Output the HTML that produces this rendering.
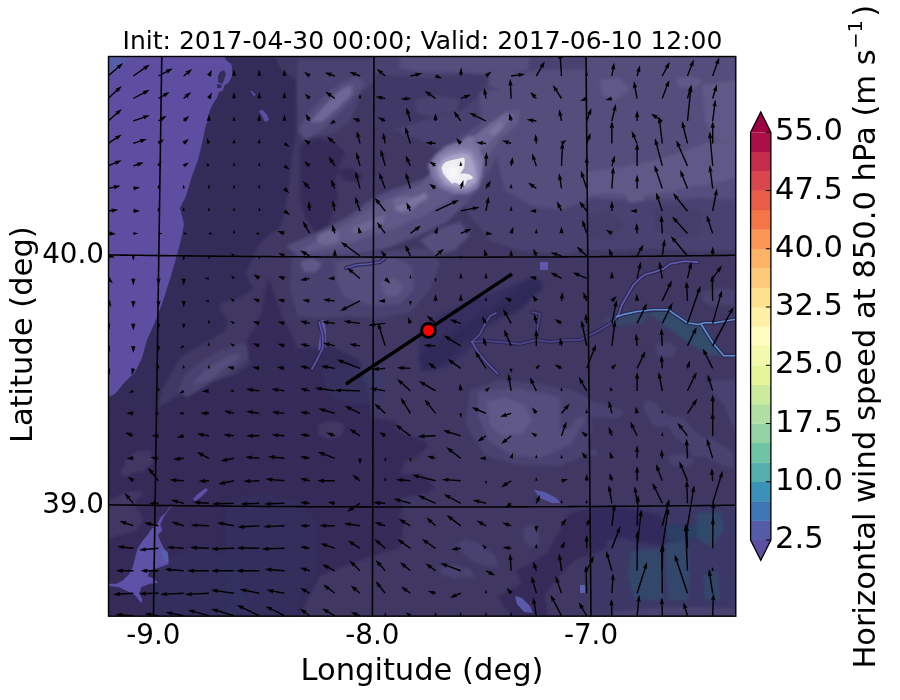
<!DOCTYPE html>
<html><head><meta charset="utf-8"><style>
html,body{margin:0;padding:0;background:#fff;width:900px;height:700px;overflow:hidden}
svg{display:block}
text{font-family:"DejaVu Sans","Liberation Sans",sans-serif;fill:#000}
.t25{font-size:25px} .t27{font-size:27.78px} .t30{font-size:30.56px}
</style></head><body>
<svg width="900" height="700" viewBox="0 0 900 700">
<filter id="soft" x="-10%" y="-10%" width="120%" height="120%"><feGaussianBlur stdDeviation="1.5"/></filter>
<clipPath id="axclip"><rect x="108.5" y="56.5" width="627.3" height="559.7"/></clipPath>
<g clip-path="url(#axclip)">
<rect x="108.5" y="56.5" width="627.3" height="559.7" fill="#342c58"/>
<path d="M272.0,50.0 L280.0,68.0 L296.0,80.0 L298.0,96.0 L296.0,116.0 L296.0,136.0 L292.0,156.0 L290.0,176.0 L288.0,196.0 L284.0,216.0 L280.0,228.0 L268.0,236.0 L258.0,246.0 L251.4,261.4 L245.7,272.9 L249.1,280.9 L253.7,287.7 L245.7,294.6 L234.3,300.3 L221.7,302.6 L219.4,309.4 L227.4,318.6 L226.0,330.0 L214.0,338.0 L195.0,348.0 L180.0,358.0 L162.0,390.0 L158.0,408.0 L169.0,401.0 L197.0,383.0 L233.0,376.0 L258.0,358.0 L290.0,350.0 L330.0,345.0 L360.0,360.0 L364.0,384.0 L348.0,428.0 L372.0,436.0 L380.0,456.0 L388.0,492.0 L404.0,504.0 L395.0,530.0 L360.0,560.0 L320.0,575.0 L300.0,616.0 L740.0,616.0 L740.0,50.0 Z" fill="#3f3764" filter="url(#soft)"/>
<path d="M370.0,50.0 L740.0,50.0 L740.0,250.0 L700.0,252.0 L660.0,248.0 L620.0,250.0 L590.0,250.0 L560.0,255.0 L520.0,250.0 L490.0,240.0 L470.0,215.0 L440.0,150.0 L420.0,140.0 L395.0,130.0 L378.0,100.0 L376.0,80.0 Z" fill="#4a4270" filter="url(#soft)"/>
<path d="M298.0,60.0 L376.0,60.0 L376.0,80.0 L362.0,92.0 L350.0,120.0 L335.0,132.0 L318.0,136.0 L300.0,135.0 L297.0,100.0 Z" fill="#4a4270" filter="url(#soft)"/>
<path d="M300.0,145.0 L318.0,138.0 L335.0,142.0 L345.0,152.0 L340.0,165.0 L335.0,180.0 L338.0,195.0 L334.0,210.0 L328.0,226.0 L315.0,232.0 L305.0,218.0 L300.0,200.0 Z" fill="#342c59" filter="url(#soft)"/>
<path d="M335.0,170.0 L350.0,168.0 L362.0,175.0 L360.0,182.0 L345.0,181.0 Z" fill="#342c59" filter="url(#soft)"/>
<path d="M374.0,74.0 L400.0,76.0 L430.0,78.0 L470.0,74.0 L490.0,76.0 L480.0,96.0 L462.0,110.0 L440.0,116.0 L413.0,124.0 L392.0,130.0 L376.0,126.0 Z" fill="#3f3766" filter="url(#soft)"/>
<path d="M400.0,56.0 L530.0,56.0 L528.0,70.0 L490.0,74.0 L450.0,72.0 L420.0,72.0 L400.0,68.0 Z" fill="#554d7b" filter="url(#soft)"/>
<path d="M488.0,72.0 L510.0,70.0 L533.0,74.0 L530.0,90.0 L505.0,92.0 L490.0,86.0 Z" fill="#554d7b" filter="url(#soft)"/>
<path d="M415.0,100.0 L440.0,96.0 L460.0,100.0 L455.0,112.0 L430.0,116.0 L416.0,112.0 Z" fill="#4a4270" filter="url(#soft)"/>
<path d="M586.0,56.0 L736.0,56.0 L736.0,200.0 L700.0,198.0 L660.0,200.0 L620.0,200.0 L586.0,198.0 Z" fill="#554d7b" filter="url(#soft)"/>
<path d="M500.0,80.0 L540.0,70.0 L588.0,70.0 L588.0,200.0 L560.0,210.0 L530.0,205.0 L505.0,190.0 L495.0,150.0 Z" fill="#554d7b" filter="url(#soft)"/>
<path d="M586.0,172.0 L624.0,167.0 L653.0,161.0 L682.0,152.0 L705.0,143.0 L736.0,140.0 L736.0,178.0 L711.0,184.0 L691.0,187.0 L667.0,193.0 L638.0,196.0 L609.0,193.0 L586.0,196.0 Z" fill="#615886" filter="url(#soft)"/>
<path d="M702.0,85.0 L736.0,80.0 L736.0,143.0 L715.0,140.0 L705.0,120.0 Z" fill="#615886" filter="url(#soft)"/>
<path d="M676.0,79.0 L690.0,76.0 L702.0,80.0 L696.0,88.0 L680.0,88.0 Z" fill="#615886" filter="url(#soft)"/>
<path d="M600.0,80.0 L620.0,78.0 L630.0,90.0 L615.0,100.0 L602.0,95.0 Z" fill="#615886" filter="url(#soft)"/>
<path d="M653.0,208.0 L680.0,205.0 L702.0,212.0 L700.0,235.0 L680.0,238.0 L655.0,230.0 Z" fill="#443c6a" filter="url(#soft)"/>
<path d="M588.0,215.0 L610.0,212.0 L625.0,225.0 L610.0,240.0 L590.0,238.0 Z" fill="#443c6a" filter="url(#soft)"/>
<path d="M624.0,193.0 L640.0,192.0 L645.0,200.0 L630.0,203.0 Z" fill="#615886" filter="url(#soft)"/>
<path d="M479.0,92.0 L540.0,85.0 L582.0,90.0 L585.0,160.0 L560.0,175.0 L530.0,170.0 L505.0,160.0 L485.0,150.0 Z" fill="#554d7b" filter="url(#soft)"/>
<path d="M286.0,246.0 L300.0,240.0 L325.0,229.0 L352.0,214.0 L374.0,197.0 L397.0,188.0 L423.0,179.0 L438.0,168.0 L460.0,138.0 L478.0,125.0 L495.0,112.0 L512.0,102.0 L530.0,104.0 L532.0,118.0 L515.0,135.0 L500.0,150.0 L490.0,170.0 L479.0,188.0 L465.0,205.0 L447.0,222.0 L422.0,234.0 L387.0,248.0 L351.0,256.0 L320.0,258.0 L300.0,258.0 Z" fill="#554d7b" filter="url(#soft)"/>
<path d="M300.0,250.0 L325.0,236.0 L352.0,220.0 L376.0,204.0 L398.0,194.0 L420.0,185.0 L440.0,165.0 L462.0,146.0 L485.0,128.0 L505.0,112.0 L520.0,110.0 L518.0,124.0 L500.0,140.0 L485.0,160.0 L470.0,180.0 L450.0,200.0 L425.0,215.0 L395.0,228.0 L365.0,238.0 L335.0,247.0 L310.0,252.0 Z" fill="#615886" filter="url(#soft)"/>
<path d="M393.0,199.0 L405.0,196.0 L418.0,198.0 L416.0,208.0 L404.0,214.0 L394.0,210.0 Z" fill="#6e6694" filter="url(#soft)"/>
<path d="M317.0,236.0 L328.0,230.0 L340.0,232.0 L338.0,242.0 L326.0,245.0 L318.0,243.0 Z" fill="#6e6694" filter="url(#soft)"/>
<path d="M352.0,228.0 L370.0,220.0 L385.0,214.0 L384.0,222.0 L368.0,230.0 L354.0,234.0 Z" fill="#6e6694" filter="url(#soft)"/>
<path d="M470.0,140.0 L490.0,124.0 L508.0,112.0 L514.0,116.0 L500.0,132.0 L484.0,148.0 L474.0,150.0 Z" fill="#6e6694" filter="url(#soft)"/>
<path d="M395.0,208.0 L410.0,200.0 L425.0,192.0 L428.0,198.0 L414.0,206.0 L400.0,212.0 Z" fill="#7c73a1" filter="url(#soft)"/>
<path d="M488.0,132.0 L500.0,122.0 L504.0,126.0 L494.0,136.0 Z" fill="#7c73a1" filter="url(#soft)"/>
<path d="M298.0,130.0 L310.0,112.0 L325.0,96.0 L342.0,82.0 L358.0,76.0 L365.0,84.0 L352.0,100.0 L338.0,115.0 L322.0,130.0 L305.0,140.0 Z" fill="#554d7b" filter="url(#soft)"/>
<path d="M310.0,122.0 L324.0,106.0 L340.0,90.0 L352.0,84.0 L352.0,94.0 L338.0,108.0 L322.0,122.0 Z" fill="#6e6694" filter="url(#soft)"/>
<path d="M292.0,256.0 L330.0,254.0 L380.0,252.0 L425.0,248.0 L440.0,262.0 L430.0,290.0 L410.0,312.0 L380.0,318.0 L350.0,316.0 L320.0,318.0 L298.0,316.0 L290.0,290.0 Z" fill="#4a4270" filter="url(#soft)"/>
<path d="M335.0,262.0 L360.0,258.0 L395.0,258.0 L412.0,266.0 L414.0,290.0 L400.0,304.0 L372.0,306.0 L345.0,298.0 L336.0,280.0 Z" fill="#554d7b" filter="url(#soft)"/>
<path d="M380.0,282.0 L395.0,278.0 L404.0,286.0 L398.0,296.0 L385.0,296.0 Z" fill="#615886" filter="url(#soft)"/>
<path d="M300.0,262.0 L312.0,258.0 L322.0,264.0 L316.0,272.0 L304.0,272.0 Z" fill="#615886" filter="url(#soft)"/>
<path d="M420.0,240.0 L440.0,228.0 L460.0,222.0 L470.0,235.0 L455.0,250.0 L435.0,256.0 Z" fill="#554d7b" filter="url(#soft)"/>
<path d="M428.0,165.0 L436.0,154.0 L446.0,146.0 L458.0,142.0 L470.0,140.0 L478.0,146.0 L484.0,160.0 L482.0,176.0 L478.0,188.0 L468.0,194.0 L454.0,194.0 L440.0,188.0 L432.0,178.0 Z" fill="#7c73a1" filter="url(#soft)"/>
<path d="M434.0,166.0 L440.0,156.0 L450.0,150.0 L462.0,148.0 L472.0,150.0 L478.0,160.0 L480.0,172.0 L477.0,184.0 L468.0,190.0 L456.0,190.0 L444.0,186.0 L437.0,176.0 Z" fill="#8e85b3" filter="url(#soft)"/>
<path d="M438.0,167.0 L443.0,159.0 L452.0,155.0 L462.0,153.0 L470.0,155.0 L474.0,164.0 L476.0,173.0 L476.0,182.0 L468.0,187.0 L457.0,187.0 L447.0,184.0 L440.0,176.0 Z" fill="#a8a4c8" filter="url(#soft)"/>
<path d="M441.4,167.7 L444.3,163.1 L447.7,160.9 L453.4,159.7 L459.1,158.6 L463.7,157.4 L464.9,159.7 L464.3,167.7 L460.3,173.4 L464.9,173.4 L469.4,174.6 L472.9,176.9 L472.3,179.1 L467.1,180.3 L464.9,184.9 L461.4,187.1 L458.0,183.7 L454.6,182.6 L452.3,183.7 L450.0,181.4 L446.6,178.0 L443.1,173.4 Z" fill="#eeeef2" />
<path d="M447.0,170.0 L452.0,166.0 L457.0,168.0 L458.0,176.0 L452.0,180.0 L448.0,176.0 Z" fill="#f8f8fa" filter="url(#soft)"/>
<path d="M463.0,140.0 L468.0,136.0 L474.0,137.0 L472.0,145.0 L466.0,147.0 Z" fill="#7c73a1" filter="url(#soft)"/>
<path d="M178.0,392.0 L185.0,375.0 L200.0,362.0 L218.0,352.0 L240.0,344.0 L252.0,345.0 L246.0,360.0 L232.0,372.0 L208.0,384.0 L188.0,398.0 Z" fill="#4a4270" filter="url(#soft)"/>
<path d="M190.0,386.0 L205.0,370.0 L225.0,358.0 L240.0,352.0 L238.0,360.0 L225.0,368.0 L210.0,380.0 Z" fill="#554d7b" filter="url(#soft)"/>
<path d="M269.0,278.0 L273.0,290.0 L278.0,305.0 L282.0,318.0 L290.0,330.0 L296.0,345.0 L299.0,362.0 L250.0,362.0 L246.0,340.0 L256.0,325.0 L262.0,310.0 L264.0,295.0 Z" fill="#342c59" filter="url(#soft)"/>
<path d="M158.0,412.0 L200.0,392.0 L240.0,382.0 L280.0,368.0 L320.0,362.0 L350.0,368.0 L368.0,385.0 L372.0,418.0 L395.0,421.0 L398.0,431.0 L423.0,440.0 L429.0,446.0 L414.0,459.0 L404.0,462.0 L401.0,474.0 L423.0,474.0 L435.0,487.0 L429.0,493.0 L410.0,496.0 L398.0,499.0 L390.0,505.0 L404.0,520.0 L400.0,548.0 L370.0,557.0 L342.0,567.0 L315.0,576.0 L312.0,585.0 L299.0,598.0 L296.0,616.0 L100.0,616.0 L100.0,400.0 Z" fill="#342c59" filter="url(#soft)"/>
<path d="M318.0,425.0 L330.0,421.0 L344.0,424.0 L342.0,436.0 L328.0,440.0 L319.0,435.0 Z" fill="#3f3764" filter="url(#soft)"/>
<path d="M420.0,330.0 L440.0,315.0 L470.0,300.0 L500.0,290.0 L530.0,278.0 L545.0,285.0 L530.0,300.0 L505.0,315.0 L480.0,330.0 L470.0,350.0 L450.0,365.0 L430.0,372.0 L418.0,360.0 Z" fill="#352f5e" filter="url(#soft)"/>
<path d="M420.0,354.0 L432.0,346.0 L444.0,336.0 L460.0,328.0 L472.0,320.0 L486.0,312.0 L500.0,302.0 L514.0,290.0 L524.0,282.0 L536.0,278.0 L541.0,282.0 L540.0,290.0 L532.0,296.0 L526.0,304.0 L522.0,308.0 L514.0,314.0 L504.0,316.0 L492.0,320.0 L486.0,326.0 L478.0,334.0 L470.0,340.0 L460.0,344.0 L456.0,352.0 L448.0,360.0 L436.0,368.0 L420.0,372.0 Z" fill="#2f2958" filter="url(#soft)"/>
<path d="M648.0,312.0 L668.0,310.0 L690.0,320.0 L705.0,326.0 L716.0,345.0 L722.0,356.0 L708.0,354.0 L692.0,345.0 L676.0,334.0 L660.0,322.0 Z" fill="#2f5570" opacity="0.7" filter="url(#soft)"/>
<path d="M600.0,320.0 L625.0,314.0 L650.0,312.0 L645.0,322.0 L620.0,326.0 Z" fill="#2f5570" opacity="0.5" filter="url(#soft)"/>
<path d="M701.0,292.0 L720.0,288.0 L734.0,290.0 L734.0,305.0 L712.0,306.0 L702.0,300.0 Z" fill="#4a4270" filter="url(#soft)"/>
<path d="M655.0,344.0 L668.0,342.0 L677.0,348.0 L672.0,357.0 L658.0,356.0 Z" fill="#4a4270" filter="url(#soft)"/>
<path d="M540.0,262.0 L548.0,262.0 L548.0,270.0 L540.0,270.0 Z" fill="#5d58ae" />
<path d="M470.0,390.0 L500.0,380.0 L540.0,384.0 L575.0,392.0 L590.0,400.0 L592.0,430.0 L585.0,455.0 L560.0,466.0 L520.0,465.0 L485.0,455.0 L466.0,425.0 Z" fill="#4a4270" filter="url(#soft)"/>
<path d="M478.0,392.0 L515.0,388.0 L550.0,395.0 L580.0,402.0 L585.0,420.0 L570.0,445.0 L540.0,458.0 L510.0,455.0 L488.0,440.0 L478.0,415.0 Z" fill="#554d7b" filter="url(#soft)"/>
<path d="M486.0,402.0 L505.0,398.0 L525.0,405.0 L532.0,420.0 L522.0,434.0 L502.0,436.0 L490.0,425.0 Z" fill="#615886" filter="url(#soft)"/>
<path d="M560.0,388.0 L586.0,398.0 L590.0,402.0 L610.0,406.0 L624.0,412.0 L618.0,418.0 L592.0,417.0 L576.0,418.0 L572.0,428.0 L560.0,430.0 Z" fill="#4a4270" filter="url(#soft)"/>
<path d="M644.0,400.0 L654.0,402.0 L668.0,416.0 L684.0,418.0 L692.0,428.0 L700.0,436.0 L712.0,440.0 L732.0,452.0 L734.0,468.0 L720.0,464.0 L704.0,456.0 L692.0,456.0 L688.0,446.0 L676.0,438.0 L668.0,426.0 L654.0,426.0 L644.0,410.0 Z" fill="#4a4270" filter="url(#soft)"/>
<path d="M668.0,456.0 L684.0,454.0 L694.0,460.0 L690.0,466.0 L672.0,466.0 Z" fill="#4a4270" filter="url(#soft)"/>
<path d="M710.0,380.0 L736.0,380.0 L736.0,432.0 L724.0,404.0 L712.0,392.0 Z" fill="#4a4270" filter="url(#soft)"/>
<path d="M586.0,448.0 L596.0,450.0 L598.0,456.0 L588.0,456.0 Z" fill="#4a4270" filter="url(#soft)"/>
<path d="M590.0,508.0 L568.0,514.0 L558.0,534.0 L548.0,552.0 L532.0,562.0 L516.0,570.0 L521.0,584.0 L498.0,596.0 L503.0,606.0 L512.0,616.0 L548.0,616.0 L545.0,595.0 L560.0,575.0 L575.0,560.0 L590.0,555.0 Z" fill="#342c59" filter="url(#soft)"/>
<path d="M457.0,545.0 L465.0,539.0 L480.0,545.0 L495.0,556.0 L498.0,567.0 L485.0,566.0 L470.0,560.0 Z" fill="#4a4270" filter="url(#soft)"/>
<path d="M439.0,568.0 L455.0,565.0 L470.0,569.0 L475.0,577.0 L455.0,578.0 L442.0,575.0 Z" fill="#4a4270" filter="url(#soft)"/>
<path d="M523.0,530.0 L530.0,524.0 L538.0,528.0 L539.0,545.0 L530.0,547.0 L524.0,540.0 Z" fill="#4a4270" filter="url(#soft)"/>
<path d="M534.0,490.0 L545.0,492.0 L556.0,498.0 L561.0,503.0 L552.0,503.0 L540.0,498.0 Z" fill="#5a58a8" />
<path d="M515.0,596.0 L522.0,598.0 L530.0,606.0 L533.0,613.0 L524.0,612.0 L517.0,604.0 Z" fill="#5a58a8" />
<path d="M580.0,585.0 L585.0,585.0 L585.0,593.0 L580.0,593.0 Z" fill="#5a62b0" />
<path d="M319.0,321.0 L324.0,320.0 L326.0,332.0 L326.0,346.0 L322.0,352.0 L318.0,350.0 L320.0,336.0 Z" fill="#5f56ac" />
<path d="M322.0,372.0 L345.0,366.0 L372.0,368.0 L385.0,380.0 L380.0,402.0 L355.0,405.0 L330.0,398.0 Z" fill="#343a68" opacity="0.4" filter="url(#soft)"/>
<path d="M108.0,501.0 L120.0,495.0 L133.0,491.0 L141.0,491.0 L143.0,495.0 L137.0,499.0 L135.0,507.0 L139.0,512.0 L143.0,518.0 L141.0,524.0 L137.0,530.0 L131.0,533.0 L120.0,535.0 L108.0,539.0 Z" fill="#3f3764" filter="url(#soft)"/>
<path d="M120.0,470.0 L126.0,466.0 L132.0,468.0 L130.0,476.0 L122.0,477.0 Z" fill="#3f3764" filter="url(#soft)"/>
<path d="M124.0,462.0 L135.0,452.0 L150.0,450.0 L154.0,462.0 L142.0,472.0 L126.0,472.0 Z" fill="#3f3764" filter="url(#soft)"/>
<path d="M225.0,500.0 L260.0,494.0 L300.0,500.0 L315.0,520.0 L318.0,560.0 L312.0,585.0 L299.0,598.0 L296.0,616.0 L225.0,616.0 Z" fill="#30335f" opacity="0.6" filter="url(#soft)"/>
<path d="M160.0,560.0 L200.0,545.0 L240.0,560.0 L250.0,616.0 L150.0,616.0 Z" fill="#30335f" opacity="0.6" filter="url(#soft)"/>
<path d="M590.0,505.0 L736.0,505.0 L736.0,616.0 L590.0,616.0 Z" fill="#3b3966" filter="url(#soft)"/>
<path d="M590.0,507.0 L623.0,507.0 L640.0,510.0 L660.0,515.0 L666.0,525.0 L683.0,526.0 L696.0,525.0 L709.0,528.0 L711.0,533.0 L706.0,536.0 L683.0,541.0 L660.0,546.0 L640.0,543.0 L623.0,538.0 L607.0,540.0 L607.0,548.0 L590.0,555.0 Z" fill="#302b5b" filter="url(#soft)"/>
<path d="M666.0,525.0 L683.0,526.0 L696.0,525.0 L709.0,528.0 L711.0,533.0 L706.0,536.0 L683.0,541.0 L666.0,540.0 Z" fill="#2b4a6a" opacity="0.7" filter="url(#soft)"/>
<path d="M631.0,552.0 L660.0,548.0 L664.0,575.0 L662.0,600.0 L635.0,600.0 L628.0,575.0 Z" fill="#2d5570" opacity="0.55" filter="url(#soft)"/>
<path d="M665.0,542.0 L688.0,540.0 L690.0,570.0 L688.0,600.0 L668.0,600.0 Z" fill="#2d5570" opacity="0.55" filter="url(#soft)"/>
<path d="M696.0,513.0 L720.0,512.0 L724.0,530.0 L712.0,546.0 L698.0,540.0 Z" fill="#2d5570" opacity="0.6" filter="url(#soft)"/>
<path d="M703.0,575.0 L718.0,572.0 L720.0,600.0 L705.0,600.0 Z" fill="#2d5570" opacity="0.45" filter="url(#soft)"/>
<path d="M613.0,612.0 L650.0,608.0 L700.0,607.0 L736.0,609.0 L736.0,616.0 L613.0,616.0 Z" fill="#4a4270" filter="url(#soft)"/>
<path d="M100.0,50.0 L225.0,50.0 L225.0,56.0 L225.4,59.4 L230.0,62.9 L231.7,65.1 L232.3,75.4 L228.9,82.3 L224.3,85.7 L223.1,90.3 L218.6,92.6 L217.4,97.1 L212.9,104.0 L210.6,108.6 L208.3,115.4 L207.1,122.3 L204.9,129.1 L203.7,136.0 L198.0,160.0 L192.0,176.0 L186.0,196.0 L180.0,208.0 L184.0,224.0 L181.0,240.0 L178.0,251.0 L171.0,276.0 L162.0,304.0 L155.0,322.0 L147.0,340.0 L142.0,358.0 L135.0,372.0 L124.0,383.0 L115.0,394.0 L108.0,397.0 L100.0,397.0 Z" fill="#5d4ea2" />
<path d="M108.0,56.0 L133.0,56.0 L124.0,62.0 L116.0,70.0 L108.0,77.0 Z" fill="#545ca8" filter="url(#soft)"/>
<path d="M220.0,72.0 L224.0,70.0 L226.0,74.0 L224.0,80.0 L222.0,84.0 L218.0,82.0 L218.0,76.0 Z" fill="#342c59" />
<path d="M217.0,84.0 L222.0,85.0 L221.0,88.0 L217.0,88.0 Z" fill="#342c59" />
<path d="M250.0,91.0 L252.0,91.0 L256.0,95.0 L254.0,96.0 Z" fill="#5d4ea2" />
<path d="M259.0,111.0 L263.0,110.0 L267.0,115.0 L269.0,120.0 L265.0,122.0 L262.0,116.0 Z" fill="#5d4ea2" />
<path d="M170.6,505.5 L166.5,511.8 L160.2,518.0 L157.0,524.3 L151.8,528.5 L147.7,534.7 L142.4,541.0 L137.2,549.3 L135.1,557.7 L133.0,566.0 L128.9,574.4 L122.6,580.6 L116.4,583.8 L108.0,583.8 L108.0,585.9 L118.4,586.9 L126.8,591.1 L135.1,595.3 L141.4,603.6 L142.4,599.4 L139.3,593.2 L141.4,586.9 L149.8,583.8 L158.1,582.7 L153.9,578.6 L147.7,576.5 L149.8,570.2 L158.1,568.1 L168.5,563.9 L168.5,555.6 L164.4,549.3 L160.2,541.0 L158.1,534.7 L162.3,530.5 L160.2,524.3 L164.4,515.9 L169.6,508.6 L172.0,506.0 Z" fill="#5d52a8" />
<path d="M162.0,548.0 L168.0,552.0 L168.0,562.0 L163.0,560.0 Z" fill="#4f6ab0" opacity="0.7"/>
<path d="M206.0,488.0 L208.0,490.0 L201.0,497.0 L195.0,501.0 L193.0,499.0 L199.0,493.0 Z" fill="#5d52a8" />
<path d="M472,342 L486,341 L500,342 L520,344 L536,340 L550,342 L564,340 L580,340 L597,331.5 L611,323 L618,316" stroke="#2b2650" stroke-width="4.2" fill="none" stroke-linejoin="round" stroke-linecap="round" opacity="0.85"/>
<path d="M618,316 L621.6,305.5 L628.5,293.3 L633.7,284.7 L640.7,277.7 L645.9,274.3 L652.8,272.5 L663.2,269.1 L670.1,263.9 L684,261.3 L697.8,262.1" stroke="#2b2650" stroke-width="4.2" fill="none" stroke-linejoin="round" stroke-linecap="round" opacity="0.85"/>
<path d="M616.4,316.7 L625,314.1 L637.2,311.5 L652.8,309.8 L668.4,309.8 L677.1,315.9 L687.5,322.8 L697.8,324.5 L704.8,322.8 L715.2,322.8 L736,319.3" stroke="#2b2650" stroke-width="4.2" fill="none" stroke-linejoin="round" stroke-linecap="round" opacity="0.85"/>
<path d="M701.3,324.5 L713.4,343.6 L723.8,355.7 L736,355.7" stroke="#2b2650" stroke-width="4.2" fill="none" stroke-linejoin="round" stroke-linecap="round" opacity="0.85"/>
<path d="M472,342 L478,352 L486,362 L494,370 L498,374" stroke="#2b2650" stroke-width="4.2" fill="none" stroke-linejoin="round" stroke-linecap="round" opacity="0.85"/>
<path d="M472,342 L480,334 L484,326 L490,316 L496,313" stroke="#2b2650" stroke-width="4.2" fill="none" stroke-linejoin="round" stroke-linecap="round" opacity="0.85"/>
<path d="M532,312 L540,314 L538,326 L536,338" stroke="#2b2650" stroke-width="4.2" fill="none" stroke-linejoin="round" stroke-linecap="round" opacity="0.85"/>
<path d="M319,322 L322.7,335 L323,347 L318,358 L312,369" stroke="#2b2650" stroke-width="4.2" fill="none" stroke-linejoin="round" stroke-linecap="round" opacity="0.85"/>
<path d="M346,268 L356,265 L368,264 L380,262 L385,258" stroke="#2b2650" stroke-width="4.2" fill="none" stroke-linejoin="round" stroke-linecap="round" opacity="0.85"/>
<path d="M472,342 L486,341 L500,342 L520,344 L536,340 L550,342 L564,340 L580,340 L597,331.5 L611,323 L618,316" stroke="#6762bc" stroke-width="1.6" fill="none" stroke-linejoin="round" stroke-linecap="round" opacity="0.55"/>
<path d="M618,316 L621.6,305.5 L628.5,293.3 L633.7,284.7 L640.7,277.7 L645.9,274.3 L652.8,272.5 L663.2,269.1 L670.1,263.9 L684,261.3 L697.8,262.1" stroke="#6762bc" stroke-width="1.6" fill="none" stroke-linejoin="round" stroke-linecap="round" opacity="0.9"/>
<path d="M616.4,316.7 L625,314.1 L637.2,311.5 L652.8,309.8 L668.4,309.8 L677.1,315.9 L687.5,322.8 L697.8,324.5 L704.8,322.8 L715.2,322.8 L736,319.3" stroke="#5b8fd0" stroke-width="1.6" fill="none" stroke-linejoin="round" stroke-linecap="round" opacity="1"/>
<path d="M701.3,324.5 L713.4,343.6 L723.8,355.7 L736,355.7" stroke="#5b8fd0" stroke-width="1.6" fill="none" stroke-linejoin="round" stroke-linecap="round" opacity="1"/>
<path d="M472,342 L478,352 L486,362 L494,370 L498,374" stroke="#6762bc" stroke-width="1.6" fill="none" stroke-linejoin="round" stroke-linecap="round" opacity="0.8"/>
<path d="M472,342 L480,334 L484,326 L490,316 L496,313" stroke="#6762bc" stroke-width="1.6" fill="none" stroke-linejoin="round" stroke-linecap="round" opacity="0.7"/>
<path d="M532,312 L540,314 L538,326 L536,338" stroke="#6762bc" stroke-width="1.6" fill="none" stroke-linejoin="round" stroke-linecap="round" opacity="0.5"/>
<path d="M319,322 L322.7,335 L323,347 L318,358 L312,369" stroke="#6762bc" stroke-width="1.6" fill="none" stroke-linejoin="round" stroke-linecap="round" opacity="0.8"/>
<path d="M346,268 L356,265 L368,264 L380,262 L385,258" stroke="#6762bc" stroke-width="1.6" fill="none" stroke-linejoin="round" stroke-linecap="round" opacity="0.8"/>
<path d="M161.8,54.5 L153.4,618.2" stroke="#000" stroke-width="1.55" fill="none"/>
<path d="M374.0,54.5 L372.4,618.2" stroke="#000" stroke-width="1.55" fill="none"/>
<path d="M586.0,54.5 L591.0,618.2" stroke="#000" stroke-width="1.55" fill="none"/>
<path d="M100,254.79 L108,254.90 L116,255.01 L124,255.12 L132,255.22 L140,255.33 L148,255.43 L156,255.52 L164,255.62 L172,255.71 L180,255.80 L188,255.88 L196,255.97 L204,256.05 L212,256.12 L220,256.20 L228,256.27 L236,256.34 L244,256.41 L252,256.47 L260,256.54 L268,256.59 L276,256.65 L284,256.70 L292,256.75 L300,256.80 L308,256.85 L316,256.89 L324,256.93 L332,256.97 L340,257.00 L348,257.03 L356,257.06 L364,257.09 L372,257.11 L380,257.13 L388,257.15 L396,257.17 L404,257.18 L412,257.19 L420,257.19 L428,257.20 L436,257.20 L444,257.20 L452,257.20 L460,257.19 L468,257.18 L476,257.17 L484,257.15 L492,257.14 L500,257.12 L508,257.09 L516,257.07 L524,257.04 L532,257.01 L540,256.98 L548,256.94 L556,256.90 L564,256.86 L572,256.81 L580,256.77 L588,256.72 L596,256.66 L604,256.61 L612,256.55 L620,256.49 L628,256.43 L636,256.36 L644,256.29 L652,256.22 L660,256.14 L668,256.07 L676,255.99 L684,255.90 L692,255.82 L700,255.73 L708,255.64 L716,255.55 L724,255.45 L732,255.35 L740,255.25" stroke="#000" stroke-width="1.55" fill="none"/>
<path d="M100,504.69 L108,504.80 L116,504.91 L124,505.01 L132,505.11 L140,505.21 L148,505.30 L156,505.39 L164,505.48 L172,505.57 L180,505.66 L188,505.74 L196,505.82 L204,505.90 L212,505.97 L220,506.04 L228,506.11 L236,506.18 L244,506.24 L252,506.30 L260,506.36 L268,506.42 L276,506.47 L284,506.52 L292,506.57 L300,506.62 L308,506.66 L316,506.70 L324,506.74 L332,506.77 L340,506.81 L348,506.84 L356,506.87 L364,506.89 L372,506.91 L380,506.93 L388,506.95 L396,506.97 L404,506.98 L412,506.99 L420,506.99 L428,507.00 L436,507.00 L444,507.00 L452,507.00 L460,506.99 L468,506.98 L476,506.97 L484,506.96 L492,506.94 L500,506.92 L508,506.90 L516,506.88 L524,506.85 L532,506.82 L540,506.79 L548,506.76 L556,506.72 L564,506.68 L572,506.64 L580,506.59 L588,506.54 L596,506.49 L604,506.44 L612,506.39 L620,506.33 L628,506.27 L636,506.21 L644,506.14 L652,506.07 L660,506.00 L668,505.93 L676,505.85 L684,505.77 L692,505.69 L700,505.61 L708,505.52 L716,505.43 L724,505.34 L732,505.25 L740,505.15" stroke="#000" stroke-width="1.55" fill="none"/>
<path d="M108.6,76.5 L118.8,67.7 L119.3,69.2 L123.1,63.0 L116.4,65.9 L117.9,66.6 L107.6,75.5Z" fill="#000"/>
<path d="M133.7,76.6 L145.0,68.8 L145.3,70.4 L149.8,64.6 L142.8,66.8 L144.2,67.6 L132.9,75.4Z" fill="#000"/>
<path d="M158.8,76.6 L167.4,72.1 L167.5,73.7 L172.7,68.5 L165.5,69.8 L166.8,70.8 L158.2,75.4Z" fill="#000"/>
<path d="M184.1,76.5 L187.7,73.6 L188.1,75.2 L192.2,69.1 L185.3,71.8 L186.8,72.5 L183.2,75.5Z" fill="#000"/>
<path d="M209.5,76.3 L209.8,75.7 L210.8,77.0 L212.0,69.7 L206.9,75.0 L208.5,75.1 L208.2,75.7Z" fill="#000"/>
<path d="M234.7,76.0 L234.7,75.3 L236.1,76.0 L234.1,69.4 L232.0,76.0 L233.4,75.3 L233.4,76.0Z" fill="#000"/>
<path d="M259.9,76.0 L259.9,75.3 L261.3,76.0 L259.2,69.4 L257.2,76.0 L258.6,75.3 L258.6,76.0Z" fill="#000"/>
<path d="M285.1,76.0 L285.1,75.3 L286.5,76.0 L284.4,69.4 L282.4,76.0 L283.8,75.3 L283.8,76.0Z" fill="#000"/>
<path d="M310.1,75.4 L309.5,75.0 L311.0,74.3 L304.1,71.7 L308.3,77.7 L308.6,76.1 L309.2,76.6Z" fill="#000"/>
<path d="M335.0,75.3 L331.0,73.9 L332.1,72.7 L324.8,72.5 L330.7,76.9 L330.5,75.2 L334.6,76.7Z" fill="#000"/>
<path d="M360.2,75.3 L355.5,73.6 L356.6,72.4 L349.3,72.1 L355.1,76.6 L355.0,74.9 L359.8,76.7Z" fill="#000"/>
<path d="M385.6,75.5 L381.9,72.3 L383.4,71.6 L376.7,68.7 L380.6,74.9 L381.0,73.3 L384.7,76.5Z" fill="#000"/>
<path d="M410.5,76.7 L416.3,75.4 L415.9,77.0 L422.3,73.3 L415.0,72.7 L416.0,74.0 L410.2,75.3Z" fill="#000"/>
<path d="M435.3,76.7 L436.0,76.9 L434.9,78.1 L442.2,78.2 L436.3,73.9 L436.5,75.6 L435.8,75.3Z" fill="#000"/>
<path d="M461.5,76.0 L461.6,73.8 L463.0,74.6 L461.3,67.5 L458.7,74.4 L460.2,73.7 L460.1,76.0Z" fill="#000"/>
<path d="M486.4,76.5 L486.9,76.1 L487.3,77.7 L491.4,71.6 L484.6,74.3 L486.1,75.0 L485.5,75.5Z" fill="#000"/>
<path d="M511.2,76.7 L519.0,75.6 L518.5,77.2 L525.1,74.1 L517.9,72.9 L518.8,74.3 L511.0,75.3Z" fill="#000"/>
<path d="M536.9,76.4 L542.3,67.1 L543.2,68.5 L544.8,61.3 L539.4,66.3 L541.1,66.4 L535.7,75.6Z" fill="#000"/>
<path d="M562.2,76.0 L561.0,58.2 L562.6,58.8 L559.9,52.0 L558.2,59.1 L559.6,58.3 L560.8,76.0Z" fill="#000"/>
<path d="M587.2,76.0 L587.2,75.5 L588.2,76.0 L586.7,71.2 L585.2,76.0 L586.2,75.5 L586.2,76.0Z" fill="#000"/>
<path d="M612.6,76.1 L613.8,68.7 L615.2,69.7 L614.2,62.4 L610.9,68.9 L612.5,68.5 L611.2,75.9Z" fill="#000"/>
<path d="M637.8,76.2 L639.1,71.6 L640.3,72.6 L640.1,65.3 L636.1,71.4 L637.7,71.2 L636.4,75.8Z" fill="#000"/>
<path d="M662.9,76.3 L667.5,67.7 L668.5,69.0 L669.8,61.8 L664.6,67.0 L666.2,67.0 L661.7,75.7Z" fill="#000"/>
<path d="M688.1,76.3 L692.2,65.6 L693.4,66.8 L693.9,59.5 L689.3,65.2 L690.9,65.1 L686.8,75.7Z" fill="#000"/>
<path d="M713.3,76.2 L717.8,63.5 L719.0,64.6 L719.3,57.3 L714.9,63.2 L716.5,63.0 L712.0,75.8Z" fill="#000"/>
<path d="M108.6,99.0 L117.6,90.7 L118.1,92.2 L121.8,85.9 L115.2,89.0 L116.7,89.6 L107.6,98.0Z" fill="#000"/>
<path d="M133.6,99.1 L144.5,93.3 L144.6,95.0 L149.8,89.8 L142.6,91.1 L143.9,92.1 L133.0,97.9Z" fill="#000"/>
<path d="M158.8,99.1 L164.6,95.8 L164.7,97.5 L169.7,92.1 L162.5,93.7 L163.9,94.6 L158.1,97.9Z" fill="#000"/>
<path d="M184.1,99.0 L186.7,96.8 L187.2,98.4 L191.0,92.1 L184.3,95.1 L185.8,95.7 L183.2,98.0Z" fill="#000"/>
<path d="M209.5,98.8 L209.8,98.2 L210.8,99.5 L212.0,92.2 L206.9,97.5 L208.5,97.6 L208.2,98.2Z" fill="#000"/>
<path d="M234.7,98.5 L234.7,97.8 L236.1,98.5 L234.1,91.9 L232.0,98.5 L233.4,97.8 L233.4,98.5Z" fill="#000"/>
<path d="M259.9,98.5 L259.9,97.8 L261.3,98.5 L259.2,91.9 L257.2,98.5 L258.6,97.8 L258.6,98.5Z" fill="#000"/>
<path d="M285.1,98.5 L285.1,97.8 L286.5,98.5 L284.4,91.9 L282.4,98.5 L283.8,97.8 L283.8,98.5Z" fill="#000"/>
<path d="M310.1,98.0 L309.6,97.5 L311.2,97.0 L304.8,93.4 L308.0,100.0 L308.6,98.5 L309.1,99.0Z" fill="#000"/>
<path d="M335.2,97.9 L330.7,94.6 L332.2,93.8 L325.2,91.5 L329.6,97.4 L329.9,95.8 L334.4,99.1Z" fill="#000"/>
<path d="M360.5,98.5 L360.5,98.0 L361.5,98.5 L360.0,93.7 L358.5,98.5 L359.5,98.0 L359.5,98.5Z" fill="#000"/>
<path d="M385.3,97.8 L381.9,97.2 L382.9,95.8 L375.6,96.7 L382.1,100.1 L381.7,98.5 L385.1,99.2Z" fill="#000"/>
<path d="M410.3,97.8 L406.8,98.0 L407.5,96.4 L400.6,99.0 L407.7,100.8 L406.9,99.4 L410.4,99.2Z" fill="#000"/>
<path d="M436.0,97.9 L430.1,93.8 L431.6,92.9 L424.6,90.7 L429.0,96.5 L429.3,94.9 L435.2,99.1Z" fill="#000"/>
<path d="M461.0,99.1 L465.4,97.6 L465.2,99.2 L471.1,94.8 L463.7,95.1 L464.9,96.3 L460.5,97.8Z" fill="#000"/>
<path d="M486.6,98.4 L485.9,94.1 L487.5,94.5 L484.2,88.0 L483.2,95.3 L484.5,94.3 L485.3,98.6Z" fill="#000"/>
<path d="M511.8,98.5 L511.2,85.0 L512.7,85.7 L510.1,78.8 L508.3,85.9 L509.8,85.1 L510.4,98.5Z" fill="#000"/>
<path d="M536.8,98.0 L535.1,96.2 L536.7,95.6 L530.2,92.1 L533.5,98.7 L534.1,97.1 L535.8,99.0Z" fill="#000"/>
<path d="M562.1,98.1 L556.7,89.8 L558.4,89.6 L552.7,84.9 L554.7,92.0 L555.6,90.6 L560.9,98.9Z" fill="#000"/>
<path d="M586.5,97.8 L585.8,98.1 L585.9,96.4 L580.2,101.1 L587.5,100.5 L586.3,99.4 L587.0,99.1Z" fill="#000"/>
<path d="M611.7,97.8 L611.1,98.0 L611.4,96.4 L605.4,100.1 L612.4,100.5 L611.4,99.3 L612.1,99.1Z" fill="#000"/>
<path d="M637.8,98.4 L635.7,87.2 L637.3,87.6 L633.9,81.1 L633.0,88.4 L634.3,87.4 L636.4,98.6Z" fill="#000"/>
<path d="M662.9,98.7 L667.7,86.1 L668.9,87.3 L669.3,80.0 L664.7,85.8 L666.4,85.6 L661.6,98.2Z" fill="#000"/>
<path d="M688.1,98.7 L690.5,90.7 L691.7,91.8 L691.6,84.5 L687.5,90.6 L689.1,90.3 L686.8,98.3Z" fill="#000"/>
<path d="M713.3,98.7 L715.8,90.7 L717.0,91.8 L717.0,84.5 L712.8,90.5 L714.4,90.3 L712.0,98.3Z" fill="#000"/>
<path d="M108.6,121.5 L117.5,113.7 L118.0,115.3 L121.8,109.1 L115.1,112.0 L116.6,112.7 L107.6,120.5Z" fill="#000"/>
<path d="M133.5,121.6 L144.1,118.0 L143.9,119.6 L149.8,115.3 L142.5,115.5 L143.6,116.7 L133.1,120.3Z" fill="#000"/>
<path d="M158.9,121.6 L161.8,119.7 L162.0,121.3 L166.7,115.7 L159.6,117.6 L161.0,118.5 L158.1,120.4Z" fill="#000"/>
<path d="M184.2,121.5 L185.1,120.6 L185.7,122.1 L189.2,115.7 L182.6,119.0 L184.1,119.5 L183.2,120.5Z" fill="#000"/>
<path d="M209.5,121.0 L209.5,120.3 L210.9,121.0 L208.9,114.4 L206.8,121.0 L208.2,120.3 L208.2,121.0Z" fill="#000"/>
<path d="M234.5,121.0 L234.5,120.5 L235.6,121.0 L234.1,116.2 L232.5,121.0 L233.6,120.5 L233.6,121.0Z" fill="#000"/>
<path d="M259.9,121.0 L259.9,120.3 L261.3,121.0 L259.2,114.4 L257.2,121.0 L258.6,120.3 L258.6,121.0Z" fill="#000"/>
<path d="M285.1,121.0 L285.1,120.3 L286.5,121.0 L284.4,114.4 L282.4,121.0 L283.8,120.3 L283.8,121.0Z" fill="#000"/>
<path d="M310.2,120.7 L309.3,118.9 L311.0,118.8 L305.7,113.7 L307.1,120.9 L308.1,119.6 L309.0,121.3Z" fill="#000"/>
<path d="M334.5,120.5 L333.9,120.8 L333.7,119.3 L329.6,124.4 L335.9,122.6 L334.6,121.8 L335.2,121.5Z" fill="#000"/>
<path d="M360.2,120.3 L358.9,119.8 L360.0,118.6 L352.7,118.3 L358.5,122.8 L358.4,121.1 L359.8,121.6Z" fill="#000"/>
<path d="M385.5,120.4 L383.8,119.5 L385.1,118.5 L377.9,117.3 L383.1,122.4 L383.2,120.8 L384.9,121.6Z" fill="#000"/>
<path d="M411.0,120.8 L408.8,113.3 L410.4,113.5 L406.3,107.5 L406.2,114.8 L407.4,113.7 L409.7,121.2Z" fill="#000"/>
<path d="M436.3,121.0 L436.2,119.5 L437.7,120.1 L435.4,113.2 L433.4,120.2 L434.8,119.5 L434.9,121.0Z" fill="#000"/>
<path d="M461.3,120.6 L457.9,115.7 L459.5,115.4 L453.7,111.0 L455.9,118.0 L456.7,116.5 L460.2,121.4Z" fill="#000"/>
<path d="M486.3,120.4 L475.2,114.9 L476.5,113.9 L469.3,112.8 L474.6,117.8 L474.6,116.2 L485.6,121.6Z" fill="#000"/>
<path d="M511.8,120.8 L511.4,119.2 L513.1,119.5 L509.2,113.3 L508.8,120.6 L510.1,119.6 L510.5,121.1Z" fill="#000"/>
<path d="M536.4,120.3 L533.1,119.7 L534.0,118.4 L526.7,119.4 L533.3,122.7 L532.8,121.1 L536.2,121.7Z" fill="#000"/>
<path d="M562.2,120.8 L561.1,115.3 L562.7,115.7 L559.1,109.3 L558.4,116.6 L559.7,115.6 L560.8,121.1Z" fill="#000"/>
<path d="M587.4,121.2 L590.0,114.1 L591.1,115.3 L591.5,108.0 L587.0,113.8 L588.7,113.6 L586.1,120.7Z" fill="#000"/>
<path d="M612.6,121.1 L615.1,110.3 L616.4,111.3 L615.9,104.0 L612.2,110.3 L613.8,110.0 L611.2,120.8Z" fill="#000"/>
<path d="M637.8,121.0 L637.8,116.8 L639.3,117.5 L637.1,110.5 L634.9,117.5 L636.4,116.8 L636.4,121.0Z" fill="#000"/>
<path d="M662.7,120.4 L656.6,116.5 L658.0,115.6 L650.9,113.7 L655.6,119.3 L655.8,117.7 L661.9,121.6Z" fill="#000"/>
<path d="M688.2,121.1 L691.2,91.6 L692.6,92.5 L691.2,85.3 L688.3,92.0 L689.8,91.5 L686.8,120.9Z" fill="#000"/>
<path d="M713.4,121.1 L715.3,105.8 L716.7,106.7 L715.4,99.5 L712.3,106.2 L713.9,105.6 L712.0,120.9Z" fill="#000"/>
<path d="M108.5,144.1 L116.9,138.4 L117.2,140.1 L121.8,134.4 L114.8,136.4 L116.2,137.3 L107.7,142.9Z" fill="#000"/>
<path d="M133.5,144.1 L141.1,141.6 L140.9,143.2 L146.8,138.9 L139.5,139.0 L140.6,140.2 L133.1,142.8Z" fill="#000"/>
<path d="M158.9,144.0 L159.6,143.4 L160.0,145.0 L164.0,138.9 L157.2,141.7 L158.7,142.4 L158.0,142.9Z" fill="#000"/>
<path d="M184.1,144.0 L184.7,143.5 L185.1,145.1 L188.9,138.8 L182.2,141.8 L183.7,142.5 L183.2,143.0Z" fill="#000"/>
<path d="M209.4,143.3 L209.2,142.7 L210.6,142.9 L207.0,137.9 L207.1,144.1 L208.1,143.1 L208.3,143.7Z" fill="#000"/>
<path d="M234.5,143.5 L234.5,143.0 L235.6,143.5 L234.1,138.7 L232.5,143.5 L233.6,143.0 L233.6,143.5Z" fill="#000"/>
<path d="M259.7,143.5 L259.7,143.0 L260.7,143.5 L259.2,138.7 L257.7,143.5 L258.8,143.0 L258.8,143.5Z" fill="#000"/>
<path d="M284.1,144.0 L284.6,144.3 L283.3,145.1 L289.6,146.9 L285.5,141.8 L285.3,143.3 L284.8,143.0Z" fill="#000"/>
<path d="M310.0,142.9 L309.4,142.5 L310.9,141.7 L303.8,139.5 L308.4,145.3 L308.6,143.7 L309.2,144.0Z" fill="#000"/>
<path d="M335.3,143.0 L332.1,140.1 L333.7,139.5 L327.0,136.4 L330.7,142.7 L331.2,141.1 L334.3,144.0Z" fill="#000"/>
<path d="M360.7,143.3 L359.0,136.8 L360.7,137.1 L356.8,130.9 L356.4,138.2 L357.7,137.1 L359.3,143.6Z" fill="#000"/>
<path d="M385.9,143.3 L384.9,138.5 L386.5,138.9 L382.9,132.5 L382.2,139.8 L383.5,138.8 L384.5,143.6Z" fill="#000"/>
<path d="M411.0,143.3 L407.7,132.6 L409.3,132.8 L405.1,126.8 L405.1,134.1 L406.3,133.0 L409.7,143.7Z" fill="#000"/>
<path d="M435.6,142.8 L431.6,142.3 L432.5,140.9 L425.3,142.4 L432.0,145.3 L431.5,143.7 L435.5,144.2Z" fill="#000"/>
<path d="M461.3,143.0 L460.8,142.5 L462.4,142.0 L456.1,138.2 L459.1,144.9 L459.8,143.4 L460.2,143.9Z" fill="#000"/>
<path d="M486.0,142.8 L482.5,142.4 L483.4,141.0 L476.2,142.4 L482.9,145.3 L482.3,143.8 L485.9,144.2Z" fill="#000"/>
<path d="M511.4,142.8 L508.3,141.8 L509.5,140.6 L502.1,140.5 L508.1,144.8 L507.9,143.1 L510.9,144.1Z" fill="#000"/>
<path d="M537.0,143.4 L536.8,140.1 L538.3,140.7 L535.5,133.9 L533.9,141.0 L535.4,140.2 L535.6,143.5Z" fill="#000"/>
<path d="M561.9,144.0 L562.4,143.6 L562.6,145.1 L566.7,140.0 L560.4,141.8 L561.7,142.6 L561.2,143.0Z" fill="#000"/>
<path d="M587.4,143.7 L589.2,138.9 L590.3,140.1 L590.7,132.8 L586.2,138.6 L587.8,138.4 L586.1,143.2Z" fill="#000"/>
<path d="M612.6,143.5 L612.6,127.4 L614.1,128.1 L611.9,121.1 L609.7,128.1 L611.2,127.4 L611.2,143.5Z" fill="#000"/>
<path d="M637.7,143.2 L634.8,136.4 L636.4,136.4 L631.6,130.9 L632.4,138.2 L633.5,136.9 L636.4,143.8Z" fill="#000"/>
<path d="M663.0,143.4 L660.5,122.6 L662.1,123.2 L659.1,116.5 L657.7,123.7 L659.1,122.8 L661.6,143.6Z" fill="#000"/>
<path d="M688.1,143.3 L684.2,127.0 L685.8,127.3 L682.0,121.1 L681.5,128.4 L682.8,127.4 L686.8,143.6Z" fill="#000"/>
<path d="M713.4,143.5 L713.4,127.4 L714.9,128.1 L712.7,121.1 L710.5,128.1 L712.0,127.4 L712.0,143.5Z" fill="#000"/>
<path d="M108.4,166.6 L116.3,163.3 L116.2,165.0 L121.8,160.3 L114.5,160.9 L115.7,162.0 L107.8,165.3Z" fill="#000"/>
<path d="M133.5,166.6 L138.0,165.2 L137.8,166.8 L143.8,162.6 L136.5,162.6 L137.6,163.8 L133.1,165.3Z" fill="#000"/>
<path d="M159.0,166.3 L159.3,165.8 L160.1,167.0 L161.9,160.8 L156.8,164.9 L158.3,165.1 L158.0,165.6Z" fill="#000"/>
<path d="M184.0,166.5 L184.5,166.1 L184.8,167.6 L188.9,162.5 L182.6,164.3 L183.8,165.1 L183.3,165.4Z" fill="#000"/>
<path d="M209.2,165.7 L208.9,165.4 L209.8,165.0 L205.8,162.9 L207.9,166.9 L208.3,166.0 L208.6,166.3Z" fill="#000"/>
<path d="M234.4,166.0 L234.4,165.6 L235.3,166.0 L234.1,162.1 L232.8,166.0 L233.7,165.6 L233.7,166.0Z" fill="#000"/>
<path d="M259.6,166.0 L259.6,165.6 L260.5,166.0 L259.2,162.1 L258.0,166.0 L258.9,165.6 L258.9,166.0Z" fill="#000"/>
<path d="M284.1,166.5 L284.6,166.8 L283.3,167.6 L289.6,169.4 L285.5,164.3 L285.3,165.8 L284.8,165.4Z" fill="#000"/>
<path d="M310.1,165.4 L309.3,164.8 L310.8,164.1 L304.1,161.2 L307.9,167.4 L308.4,165.8 L309.2,166.5Z" fill="#000"/>
<path d="M335.4,165.6 L332.6,161.1 L334.2,160.9 L328.6,156.2 L330.5,163.3 L331.4,161.9 L334.2,166.3Z" fill="#000"/>
<path d="M360.7,165.8 L358.5,157.8 L360.1,158.1 L356.1,152.0 L355.9,159.3 L357.1,158.2 L359.3,166.1Z" fill="#000"/>
<path d="M385.9,165.8 L382.9,155.1 L384.6,155.4 L380.6,149.3 L380.3,156.6 L381.6,155.5 L384.5,166.1Z" fill="#000"/>
<path d="M411.0,165.7 L408.8,160.9 L410.5,160.9 L405.6,155.5 L406.5,162.7 L407.6,161.5 L409.7,166.3Z" fill="#000"/>
<path d="M436.0,165.4 L434.6,164.4 L436.1,163.6 L429.2,161.2 L433.5,167.1 L433.8,165.5 L435.2,166.5Z" fill="#000"/>
<path d="M461.2,166.0 L461.2,165.5 L462.3,166.0 L460.8,161.2 L459.3,166.0 L460.3,165.5 L460.3,166.0Z" fill="#000"/>
<path d="M486.6,166.0 L486.9,158.3 L488.4,159.0 L486.5,152.0 L484.0,158.9 L485.5,158.2 L485.3,165.9Z" fill="#000"/>
<path d="M511.8,166.1 L512.3,163.3 L513.7,164.2 L512.7,157.0 L509.3,163.5 L510.9,163.0 L510.5,165.8Z" fill="#000"/>
<path d="M537.0,165.7 L534.7,159.2 L536.4,159.4 L532.0,153.5 L532.2,160.8 L533.4,159.6 L535.7,166.2Z" fill="#000"/>
<path d="M562.2,166.0 L563.0,148.3 L564.4,149.0 L562.5,142.0 L560.0,148.9 L561.6,148.2 L560.8,165.9Z" fill="#000"/>
<path d="M587.4,166.0 L587.4,162.3 L588.9,163.0 L586.7,156.0 L584.5,163.0 L586.0,162.3 L586.0,166.0Z" fill="#000"/>
<path d="M612.6,166.2 L613.8,161.7 L615.1,162.8 L614.9,155.5 L610.9,161.6 L612.5,161.3 L611.2,165.8Z" fill="#000"/>
<path d="M637.8,166.0 L637.8,149.3 L639.3,150.0 L637.1,143.0 L634.9,150.0 L636.4,149.3 L636.4,166.0Z" fill="#000"/>
<path d="M663.0,165.8 L657.3,144.2 L658.9,144.5 L655.0,138.3 L654.6,145.6 L655.9,144.5 L661.6,166.1Z" fill="#000"/>
<path d="M688.1,165.7 L679.4,145.7 L681.1,145.7 L676.3,140.2 L677.0,147.5 L678.1,146.2 L686.8,166.2Z" fill="#000"/>
<path d="M713.4,165.9 L710.9,137.7 L712.5,138.2 L709.7,131.5 L708.1,138.6 L709.5,137.8 L712.0,166.0Z" fill="#000"/>
<path d="M108.2,189.1 L114.7,187.8 L114.3,189.4 L120.7,185.8 L113.4,185.1 L114.4,186.4 L108.0,187.8Z" fill="#000"/>
<path d="M133.4,189.1 L134.1,189.0 L133.7,190.6 L140.2,187.2 L132.9,186.3 L133.9,187.6 L133.2,187.8Z" fill="#000"/>
<path d="M158.9,188.4 L158.9,188.1 L159.7,188.4 L158.5,184.5 L157.3,188.4 L158.1,188.1 L158.1,188.4Z" fill="#000"/>
<path d="M184.1,188.4 L184.1,188.1 L184.9,188.4 L183.7,184.5 L182.4,188.4 L183.3,188.1 L183.3,188.4Z" fill="#000"/>
<path d="M209.3,188.4 L209.3,188.1 L210.1,188.4 L208.9,184.5 L207.6,188.4 L208.5,188.1 L208.5,188.4Z" fill="#000"/>
<path d="M234.4,188.4 L234.4,188.1 L235.3,188.4 L234.1,184.5 L232.8,188.4 L233.7,188.1 L233.7,188.4Z" fill="#000"/>
<path d="M259.6,188.4 L259.6,188.1 L260.5,188.4 L259.2,184.5 L258.0,188.4 L258.9,188.1 L258.9,188.4Z" fill="#000"/>
<path d="M283.9,188.9 L284.4,189.4 L282.9,190.0 L289.3,193.3 L285.9,186.9 L285.4,188.4 L284.9,188.0Z" fill="#000"/>
<path d="M310.1,188.0 L307.6,185.2 L309.1,184.7 L302.7,181.1 L305.9,187.7 L306.5,186.2 L309.1,188.9Z" fill="#000"/>
<path d="M335.5,188.2 L334.0,184.9 L335.7,184.9 L330.9,179.3 L331.6,186.7 L332.7,185.4 L334.2,188.7Z" fill="#000"/>
<path d="M360.7,188.3 L357.7,177.3 L359.3,177.5 L355.4,171.3 L355.1,178.7 L356.4,177.6 L359.3,188.6Z" fill="#000"/>
<path d="M385.8,188.2 L381.9,178.1 L383.6,178.2 L379.0,172.4 L379.5,179.8 L380.6,178.6 L384.5,188.7Z" fill="#000"/>
<path d="M411.1,188.2 L408.1,178.3 L409.7,178.5 L405.6,172.4 L405.5,179.8 L406.7,178.7 L409.7,188.7Z" fill="#000"/>
<path d="M436.0,187.9 L434.7,187.0 L436.1,186.1 L429.2,183.8 L433.6,189.7 L433.9,188.1 L435.2,189.0Z" fill="#000"/>
<path d="M461.4,188.7 L462.2,186.2 L463.4,187.3 L463.5,179.9 L459.2,186.0 L460.9,185.7 L460.1,188.2Z" fill="#000"/>
<path d="M486.5,188.8 L488.2,186.2 L489.1,187.6 L491.0,180.4 L485.4,185.2 L487.0,185.4 L485.4,188.1Z" fill="#000"/>
<path d="M511.6,188.4 L511.6,188.0 L512.6,188.4 L511.1,183.6 L509.6,188.4 L510.7,188.0 L510.7,188.4Z" fill="#000"/>
<path d="M536.7,187.9 L533.6,185.6 L535.0,184.8 L528.0,182.5 L532.5,188.4 L532.8,186.8 L535.9,189.0Z" fill="#000"/>
<path d="M562.2,188.3 L560.8,179.4 L562.4,179.8 L559.1,173.2 L558.0,180.5 L559.4,179.6 L560.8,188.6Z" fill="#000"/>
<path d="M587.4,188.2 L583.4,176.3 L585.1,176.5 L580.8,170.5 L580.9,177.9 L582.1,176.8 L586.0,188.7Z" fill="#000"/>
<path d="M612.6,188.5 L613.6,173.1 L615.0,173.9 L613.3,166.8 L610.7,173.6 L612.2,173.0 L611.2,188.4Z" fill="#000"/>
<path d="M637.8,188.4 L637.8,181.1 L639.3,181.8 L637.1,174.8 L634.9,181.8 L636.4,181.1 L636.4,188.4Z" fill="#000"/>
<path d="M662.9,188.2 L657.1,170.9 L658.8,171.1 L654.5,165.1 L654.6,172.5 L655.8,171.3 L661.6,188.7Z" fill="#000"/>
<path d="M688.1,188.2 L683.2,175.7 L684.8,175.8 L680.2,170.1 L680.7,177.5 L681.9,176.3 L686.8,188.7Z" fill="#000"/>
<path d="M713.4,188.4 L711.2,171.3 L712.7,171.8 L709.7,165.1 L708.4,172.4 L709.8,171.5 L712.0,188.5Z" fill="#000"/>
<path d="M108.2,211.6 L112.2,211.2 L111.7,212.8 L118.4,209.8 L111.2,208.4 L112.1,209.8 L108.0,210.2Z" fill="#000"/>
<path d="M133.3,211.6 L134.0,211.6 L133.3,213.1 L140.2,210.9 L133.3,208.8 L134.0,210.3 L133.3,210.3Z" fill="#000"/>
<path d="M158.9,210.9 L158.9,210.6 L159.7,210.9 L158.5,207.0 L157.3,210.9 L158.1,210.6 L158.1,210.9Z" fill="#000"/>
<path d="M184.1,210.9 L184.1,210.6 L184.9,210.9 L183.7,207.0 L182.4,210.9 L183.3,210.6 L183.3,210.9Z" fill="#000"/>
<path d="M209.3,210.9 L209.3,210.6 L210.1,210.9 L208.9,207.0 L207.6,210.9 L208.5,210.6 L208.5,210.9Z" fill="#000"/>
<path d="M234.4,210.9 L234.4,210.6 L235.3,210.9 L234.1,207.0 L232.8,210.9 L233.7,210.6 L233.7,210.9Z" fill="#000"/>
<path d="M259.6,210.9 L259.6,210.6 L260.5,210.9 L259.2,207.0 L258.0,210.9 L258.9,210.6 L258.9,210.9Z" fill="#000"/>
<path d="M284.0,211.5 L284.6,211.9 L283.1,212.7 L290.0,215.1 L285.8,209.2 L285.4,210.8 L284.9,210.4Z" fill="#000"/>
<path d="M310.3,210.9 L310.0,207.3 L311.6,207.9 L308.7,201.1 L307.2,208.3 L308.6,207.5 L308.9,211.0Z" fill="#000"/>
<path d="M335.5,210.8 L334.5,206.0 L336.1,206.3 L332.5,199.9 L331.8,207.2 L333.1,206.2 L334.1,211.1Z" fill="#000"/>
<path d="M360.7,210.7 L357.7,202.3 L359.4,202.4 L355.0,196.5 L355.2,203.9 L356.4,202.7 L359.3,211.2Z" fill="#000"/>
<path d="M385.7,210.5 L379.0,202.1 L380.6,201.7 L374.5,197.6 L377.2,204.5 L377.9,203.0 L384.6,211.4Z" fill="#000"/>
<path d="M411.0,210.6 L409.6,207.6 L411.3,207.6 L406.3,202.2 L407.3,209.5 L408.3,208.2 L409.7,211.2Z" fill="#000"/>
<path d="M435.9,211.6 L453.5,203.3 L453.5,204.9 L458.9,199.9 L451.6,200.9 L452.9,202.0 L435.3,210.3Z" fill="#000"/>
<path d="M460.9,211.6 L473.4,209.1 L473.0,210.8 L479.5,207.2 L472.2,206.4 L473.1,207.8 L460.6,210.3Z" fill="#000"/>
<path d="M486.6,211.1 L488.2,202.9 L489.5,203.8 L488.7,196.5 L485.2,203.0 L486.8,202.6 L485.3,210.8Z" fill="#000"/>
<path d="M511.6,210.9 L511.6,210.5 L512.6,210.9 L511.1,206.1 L509.6,210.9 L510.7,210.5 L510.7,210.9Z" fill="#000"/>
<path d="M536.3,210.3 L535.7,210.3 L536.3,208.9 L529.7,210.9 L536.3,213.0 L535.7,211.6 L536.3,211.6Z" fill="#000"/>
<path d="M562.1,210.6 L560.2,206.7 L561.8,206.6 L556.7,201.3 L557.9,208.6 L558.9,207.3 L560.9,211.3Z" fill="#000"/>
<path d="M587.3,210.5 L583.6,205.9 L585.3,205.5 L579.2,201.3 L581.8,208.2 L582.5,206.7 L586.2,211.4Z" fill="#000"/>
<path d="M612.6,210.9 L612.6,207.2 L614.1,207.9 L611.9,200.9 L609.7,207.9 L611.2,207.2 L611.2,210.9Z" fill="#000"/>
<path d="M637.1,210.2 L636.4,210.2 L637.1,208.7 L630.1,210.9 L637.1,213.1 L636.4,211.6 L637.1,211.6Z" fill="#000"/>
<path d="M662.9,210.7 L658.8,198.4 L660.4,198.6 L656.1,192.6 L656.2,200.0 L657.4,198.8 L661.6,211.2Z" fill="#000"/>
<path d="M688.0,210.5 L677.4,197.6 L679.0,197.2 L672.9,193.1 L675.6,199.9 L676.3,198.5 L686.9,211.4Z" fill="#000"/>
<path d="M713.3,211.1 L716.5,194.9 L717.8,195.8 L717.0,188.5 L713.5,195.0 L715.1,194.6 L712.0,210.8Z" fill="#000"/>
<path d="M108.1,234.1 L109.8,234.2 L109.0,235.7 L116.1,233.9 L109.3,231.3 L109.9,232.8 L108.1,232.7Z" fill="#000"/>
<path d="M133.3,233.9 L133.8,233.9 L133.3,234.9 L138.1,233.4 L133.3,231.9 L133.8,232.9 L133.3,232.9Z" fill="#000"/>
<path d="M158.5,233.8 L158.9,233.8 L158.5,234.7 L162.4,233.4 L158.5,232.2 L158.9,233.0 L158.5,233.0Z" fill="#000"/>
<path d="M183.7,233.8 L184.1,233.8 L183.7,234.7 L187.6,233.4 L183.7,232.2 L184.1,233.0 L183.7,233.0Z" fill="#000"/>
<path d="M208.9,233.8 L209.2,233.8 L208.9,234.7 L212.8,233.4 L208.9,232.2 L209.2,233.0 L208.9,233.0Z" fill="#000"/>
<path d="M234.4,233.4 L234.4,233.0 L235.3,233.4 L234.1,229.5 L232.8,233.4 L233.7,233.0 L233.7,233.4Z" fill="#000"/>
<path d="M259.2,233.0 L258.9,233.0 L259.2,232.2 L255.3,233.4 L259.2,234.7 L258.9,233.8 L259.2,233.8Z" fill="#000"/>
<path d="M284.7,232.8 L283.6,232.4 L284.8,231.2 L277.4,230.9 L283.3,235.4 L283.1,233.7 L284.2,234.1Z" fill="#000"/>
<path d="M310.2,233.1 L306.4,226.0 L308.0,225.9 L302.7,220.8 L304.2,228.0 L305.1,226.7 L309.0,233.8Z" fill="#000"/>
<path d="M335.5,233.2 L334.6,230.2 L336.2,230.4 L332.1,224.3 L332.0,231.7 L333.2,230.6 L334.1,233.6Z" fill="#000"/>
<path d="M360.7,233.3 L360.5,232.5 L362.1,232.9 L358.4,226.5 L357.8,233.8 L359.1,232.8 L359.3,233.6Z" fill="#000"/>
<path d="M385.8,233.0 L381.0,226.7 L382.6,226.3 L376.7,222.0 L379.1,229.0 L379.9,227.5 L384.6,233.8Z" fill="#000"/>
<path d="M410.8,234.0 L416.5,229.8 L416.8,231.4 L421.1,225.4 L414.2,227.9 L415.6,228.6 L410.0,232.9Z" fill="#000"/>
<path d="M436.2,233.7 L436.5,233.0 L437.6,234.2 L437.9,226.8 L433.5,232.7 L435.1,232.5 L434.9,233.2Z" fill="#000"/>
<path d="M461.0,234.1 L465.9,232.0 L465.9,233.6 L471.5,228.8 L464.2,229.6 L465.4,230.7 L460.5,232.8Z" fill="#000"/>
<path d="M485.9,234.1 L486.6,234.2 L485.8,235.6 L492.9,234.0 L486.1,231.2 L486.7,232.8 L486.0,232.7Z" fill="#000"/>
<path d="M511.8,233.6 L512.0,233.0 L513.2,234.1 L513.3,226.8 L509.0,232.8 L510.7,232.5 L510.5,233.2Z" fill="#000"/>
<path d="M536.8,233.4 L536.8,232.9 L537.8,233.4 L536.3,228.6 L534.8,233.4 L535.9,232.9 L535.9,233.4Z" fill="#000"/>
<path d="M562.2,233.4 L562.2,232.7 L563.7,233.4 L561.5,226.4 L559.3,233.4 L560.8,232.7 L560.8,233.4Z" fill="#000"/>
<path d="M587.4,233.2 L584.9,225.6 L586.5,225.8 L582.2,219.8 L582.3,227.2 L583.5,226.0 L586.0,233.6Z" fill="#000"/>
<path d="M612.3,232.8 L611.7,232.5 L613.0,231.5 L605.9,229.8 L610.8,235.3 L610.9,233.7 L611.5,234.0Z" fill="#000"/>
<path d="M637.8,233.4 L637.6,229.3 L639.1,229.9 L636.6,223.0 L634.7,230.1 L636.2,229.4 L636.4,233.5Z" fill="#000"/>
<path d="M663.0,233.4 L662.3,221.3 L663.9,221.9 L661.3,215.0 L659.5,222.1 L660.9,221.4 L661.6,233.5Z" fill="#000"/>
<path d="M688.0,233.0 L676.7,220.6 L678.3,220.1 L672.0,216.4 L675.1,223.1 L675.7,221.6 L687.0,233.9Z" fill="#000"/>
<path d="M713.3,233.2 L709.3,220.8 L710.9,221.0 L706.7,215.0 L706.7,222.4 L707.9,221.2 L712.0,233.6Z" fill="#000"/>
<path d="M108.0,256.6 L108.6,256.7 L107.7,258.1 L115.0,257.3 L108.5,253.8 L108.9,255.4 L108.2,255.2Z" fill="#000"/>
<path d="M132.8,255.9 L132.8,256.4 L131.8,255.9 L133.3,260.7 L134.8,255.9 L133.8,256.4 L133.8,255.9Z" fill="#000"/>
<path d="M158.1,255.9 L158.1,256.3 L157.3,255.9 L158.5,259.8 L159.7,255.9 L158.9,256.3 L158.9,255.9Z" fill="#000"/>
<path d="M183.2,255.9 L183.2,256.4 L182.2,255.9 L183.7,260.7 L185.2,255.9 L184.2,256.4 L184.2,255.9Z" fill="#000"/>
<path d="M208.5,255.9 L208.5,256.3 L207.6,255.9 L208.9,259.8 L210.1,255.9 L209.2,256.3 L209.2,255.9Z" fill="#000"/>
<path d="M234.4,255.6 L234.1,255.3 L235.0,255.0 L231.0,252.9 L233.1,256.9 L233.4,255.9 L233.7,256.2Z" fill="#000"/>
<path d="M258.9,255.9 L258.9,256.3 L258.0,255.9 L259.2,259.8 L260.5,255.9 L259.6,256.3 L259.6,255.9Z" fill="#000"/>
<path d="M284.7,255.3 L284.1,255.0 L285.4,254.0 L278.2,252.8 L283.4,257.9 L283.5,256.2 L284.1,256.5Z" fill="#000"/>
<path d="M310.0,255.3 L305.8,252.9 L307.2,252.0 L300.0,250.4 L305.0,255.8 L305.1,254.2 L309.3,256.5Z" fill="#000"/>
<path d="M335.5,255.9 L335.5,255.2 L337.0,255.9 L334.8,248.9 L332.6,255.9 L334.1,255.2 L334.1,255.9Z" fill="#000"/>
<path d="M360.4,255.4 L346.3,245.1 L347.8,244.3 L340.8,241.9 L345.2,247.8 L345.5,246.2 L359.6,256.5Z" fill="#000"/>
<path d="M385.7,255.5 L385.3,255.0 L386.8,254.5 L380.8,250.7 L383.6,257.3 L384.2,255.8 L384.7,256.4Z" fill="#000"/>
<path d="M411.0,255.6 L408.4,250.1 L410.1,250.1 L405.1,244.7 L406.1,252.0 L407.1,250.7 L409.7,256.2Z" fill="#000"/>
<path d="M436.0,256.5 L439.7,253.4 L440.1,255.0 L444.1,248.8 L437.3,251.6 L438.8,252.3 L435.1,255.4Z" fill="#000"/>
<path d="M460.4,255.9 L460.4,256.3 L459.5,255.9 L460.8,259.8 L462.0,255.9 L461.1,256.3 L461.1,255.9Z" fill="#000"/>
<path d="M486.6,255.8 L486.5,255.1 L488.1,255.4 L484.4,249.1 L483.8,256.4 L485.1,255.4 L485.3,256.1Z" fill="#000"/>
<path d="M511.8,255.9 L511.8,255.3 L513.1,255.9 L511.1,249.8 L509.2,255.9 L510.5,255.3 L510.5,255.9Z" fill="#000"/>
<path d="M537.0,255.7 L536.3,254.0 L538.0,254.1 L533.3,248.4 L533.9,255.7 L535.0,254.5 L535.7,256.2Z" fill="#000"/>
<path d="M561.7,255.3 L556.7,253.7 L557.9,252.4 L550.5,252.4 L556.5,256.6 L556.3,255.0 L561.3,256.6Z" fill="#000"/>
<path d="M587.2,255.4 L581.8,250.4 L583.3,249.8 L576.7,246.6 L580.3,253.0 L580.8,251.4 L586.2,256.4Z" fill="#000"/>
<path d="M612.5,255.6 L611.8,253.9 L613.5,254.0 L608.7,248.4 L609.4,255.7 L610.5,254.5 L611.3,256.2Z" fill="#000"/>
<path d="M637.7,256.3 L641.0,250.3 L642.0,251.6 L643.5,244.4 L638.2,249.5 L639.8,249.6 L636.5,255.6Z" fill="#000"/>
<path d="M663.0,256.0 L664.5,245.5 L665.9,246.4 L664.7,239.1 L661.5,245.7 L663.1,245.3 L661.6,255.8Z" fill="#000"/>
<path d="M688.0,255.5 L675.3,240.3 L676.9,239.9 L670.7,235.9 L673.5,242.7 L674.2,241.2 L686.9,256.4Z" fill="#000"/>
<path d="M713.4,255.9 L713.4,252.9 L714.9,253.6 L712.7,246.6 L710.5,253.6 L712.0,252.9 L712.0,255.9Z" fill="#000"/>
<path d="M107.6,278.9 L108.1,279.4 L106.6,279.9 L112.9,283.2 L109.6,276.9 L109.1,278.4 L108.6,277.9Z" fill="#000"/>
<path d="M132.6,278.4 L132.6,279.1 L131.1,278.4 L133.3,285.4 L135.5,278.4 L134.0,279.1 L134.0,278.4Z" fill="#000"/>
<path d="M157.8,278.4 L157.8,279.1 L156.4,278.4 L158.5,285.0 L160.6,278.4 L159.1,279.1 L159.1,278.4Z" fill="#000"/>
<path d="M183.0,278.4 L183.0,279.1 L181.5,278.4 L183.7,285.4 L185.9,278.4 L184.4,279.1 L184.4,278.4Z" fill="#000"/>
<path d="M208.9,278.0 L208.4,278.0 L208.9,277.0 L204.5,278.4 L208.9,279.8 L208.4,278.8 L208.9,278.8Z" fill="#000"/>
<path d="M234.4,278.1 L234.1,277.8 L235.0,277.5 L231.0,275.4 L233.1,279.4 L233.4,278.4 L233.7,278.7Z" fill="#000"/>
<path d="M259.7,277.8 L259.1,277.4 L260.6,276.6 L253.6,274.2 L257.9,280.2 L258.3,278.5 L258.8,279.0Z" fill="#000"/>
<path d="M284.7,277.7 L284.0,277.5 L285.1,276.3 L277.8,276.2 L283.7,280.5 L283.5,278.9 L284.2,279.1Z" fill="#000"/>
<path d="M309.5,277.7 L306.1,278.4 L306.5,276.8 L300.0,280.2 L307.3,281.1 L306.3,279.7 L309.7,279.1Z" fill="#000"/>
<path d="M334.8,277.7 L334.1,277.7 L334.8,276.2 L327.8,278.4 L334.8,280.6 L334.1,279.1 L334.8,279.1Z" fill="#000"/>
<path d="M360.4,277.9 L352.3,271.2 L353.8,270.5 L347.0,267.7 L351.0,273.9 L351.4,272.3 L359.6,279.0Z" fill="#000"/>
<path d="M384.7,278.9 L385.5,279.8 L384.0,280.3 L390.5,283.7 L387.1,277.2 L386.5,278.8 L385.7,277.9Z" fill="#000"/>
<path d="M410.8,278.4 L410.8,278.0 L411.6,278.4 L410.4,274.5 L409.2,278.4 L410.0,278.0 L410.0,278.4Z" fill="#000"/>
<path d="M435.2,278.4 L435.2,278.8 L434.3,278.4 L435.6,282.3 L436.8,278.4 L436.0,278.8 L436.0,278.4Z" fill="#000"/>
<path d="M461.3,278.4 L461.3,277.8 L462.6,278.4 L460.8,272.7 L459.0,278.4 L460.2,277.8 L460.2,278.4Z" fill="#000"/>
<path d="M486.5,278.4 L486.5,277.8 L487.7,278.4 L486.0,272.7 L484.2,278.4 L485.4,277.8 L485.4,278.4Z" fill="#000"/>
<path d="M536.5,277.7 L535.6,277.5 L536.6,276.2 L529.3,276.8 L535.7,280.5 L535.3,278.9 L536.2,279.1Z" fill="#000"/>
<path d="M561.9,277.8 L556.4,274.8 L557.7,273.8 L550.5,272.4 L555.6,277.7 L555.7,276.0 L561.2,279.0Z" fill="#000"/>
<path d="M587.0,277.8 L578.8,274.2 L580.0,273.1 L572.7,272.4 L578.3,277.2 L578.2,275.5 L586.4,279.1Z" fill="#000"/>
<path d="M612.6,278.4 L612.6,277.7 L614.1,278.4 L611.9,271.4 L609.7,278.4 L611.2,277.7 L611.2,278.4Z" fill="#000"/>
<path d="M637.8,278.6 L640.1,267.9 L641.4,268.9 L640.8,261.6 L637.1,268.0 L638.8,267.6 L636.4,278.3Z" fill="#000"/>
<path d="M663.0,278.3 L661.1,267.7 L662.7,268.1 L659.3,261.6 L658.3,268.9 L659.7,267.9 L661.6,278.5Z" fill="#000"/>
<path d="M688.2,278.6 L690.7,267.9 L692.0,268.9 L691.5,261.6 L687.7,267.9 L689.3,267.6 L686.8,278.2Z" fill="#000"/>
<path d="M713.2,278.8 L718.8,271.1 L719.6,272.6 L722.0,265.6 L716.1,270.0 L717.7,270.3 L712.1,278.0Z" fill="#000"/>
<path d="M107.5,301.2 L107.8,301.8 L106.1,301.9 L111.2,307.2 L110.1,299.9 L109.0,301.2 L108.7,300.6Z" fill="#000"/>
<path d="M132.6,300.9 L132.6,301.6 L131.1,300.9 L133.3,307.9 L135.5,300.9 L134.0,301.6 L134.0,300.9Z" fill="#000"/>
<path d="M157.8,300.9 L157.8,301.6 L156.4,300.9 L158.5,307.5 L160.6,300.9 L159.1,301.6 L159.1,300.9Z" fill="#000"/>
<path d="M183.0,300.9 L183.0,301.6 L181.6,300.9 L183.7,307.5 L185.7,300.9 L184.3,301.6 L184.3,300.9Z" fill="#000"/>
<path d="M208.9,300.5 L208.5,300.5 L208.9,299.7 L205.0,300.9 L208.9,302.1 L208.5,301.3 L208.9,301.3Z" fill="#000"/>
<path d="M234.3,300.5 L233.9,300.3 L234.9,299.7 L230.2,298.3 L233.2,302.1 L233.4,301.0 L233.8,301.3Z" fill="#000"/>
<path d="M259.5,300.3 L258.8,300.0 L260.0,298.9 L252.8,298.5 L258.5,302.9 L258.4,301.3 L259.0,301.5Z" fill="#000"/>
<path d="M284.6,300.2 L283.9,300.1 L284.9,298.7 L277.6,299.5 L284.0,303.1 L283.6,301.4 L284.3,301.6Z" fill="#000"/>
<path d="M309.7,300.2 L308.7,300.1 L309.6,298.7 L302.3,299.9 L309.0,303.0 L308.5,301.4 L309.5,301.6Z" fill="#000"/>
<path d="M334.9,300.2 L329.2,299.5 L330.1,298.1 L322.9,299.5 L329.6,302.5 L329.1,300.9 L334.7,301.6Z" fill="#000"/>
<path d="M359.7,300.3 L345.4,307.4 L345.4,305.8 L340.1,310.9 L347.3,309.7 L346.0,308.7 L360.3,301.5Z" fill="#000"/>
<path d="M385.2,300.2 L384.5,300.2 L385.2,298.7 L378.2,300.9 L385.2,303.1 L384.5,301.6 L385.2,301.6Z" fill="#000"/>
<path d="M409.9,300.9 L409.9,301.4 L408.9,300.9 L410.4,305.7 L411.9,300.9 L410.9,301.4 L410.9,300.9Z" fill="#000"/>
<path d="M436.3,300.9 L436.3,300.2 L437.8,300.9 L435.6,293.9 L433.4,300.9 L434.9,300.2 L434.9,300.9Z" fill="#000"/>
<path d="M461.5,300.9 L461.5,300.2 L463.0,300.9 L460.8,293.9 L458.6,300.9 L460.1,300.2 L460.1,300.9Z" fill="#000"/>
<path d="M486.3,300.9 L486.3,300.5 L487.2,300.9 L486.0,297.0 L484.7,300.9 L485.6,300.5 L485.6,300.9Z" fill="#000"/>
<path d="M511.5,300.3 L510.9,299.9 L512.3,299.0 L505.1,297.3 L510.0,302.8 L510.2,301.1 L510.8,301.5Z" fill="#000"/>
<path d="M536.9,300.5 L536.5,299.9 L538.2,299.7 L532.4,295.1 L534.5,302.1 L535.4,300.7 L535.7,301.3Z" fill="#000"/>
<path d="M562.2,301.0 L562.5,298.2 L563.9,299.1 L562.5,291.9 L559.6,298.6 L561.1,298.1 L560.8,300.8Z" fill="#000"/>
<path d="M587.4,300.6 L586.1,297.5 L587.8,297.6 L583.2,291.9 L583.7,299.2 L584.8,298.0 L586.1,301.2Z" fill="#000"/>
<path d="M612.4,301.4 L612.9,300.9 L613.4,302.4 L616.7,296.1 L610.4,299.4 L611.9,299.9 L611.4,300.4Z" fill="#000"/>
<path d="M637.8,300.9 L637.7,299.9 L639.3,300.5 L636.6,293.7 L634.9,300.8 L636.3,300.0 L636.4,300.9Z" fill="#000"/>
<path d="M662.9,301.2 L669.8,286.4 L670.9,287.7 L671.9,280.4 L666.9,285.8 L668.6,285.8 L661.6,300.6Z" fill="#000"/>
<path d="M688.2,300.9 L687.5,287.5 L689.0,288.1 L686.5,281.2 L684.6,288.3 L686.1,287.5 L686.8,300.9Z" fill="#000"/>
<path d="M713.4,300.9 L713.0,281.2 L714.5,281.9 L712.2,274.9 L710.1,281.9 L711.6,281.2 L712.0,300.9Z" fill="#000"/>
<path d="M107.4,323.6 L107.6,324.2 L106.1,323.9 L109.7,329.9 L110.1,322.9 L108.9,323.9 L108.8,323.2Z" fill="#000"/>
<path d="M132.6,323.4 L132.6,324.1 L131.1,323.4 L133.3,330.4 L135.5,323.4 L134.0,324.1 L134.0,323.4Z" fill="#000"/>
<path d="M157.9,323.4 L157.9,324.0 L156.7,323.4 L158.5,329.1 L160.3,323.4 L159.0,324.0 L159.0,323.4Z" fill="#000"/>
<path d="M183.1,323.4 L183.1,324.0 L181.9,323.4 L183.7,329.1 L185.5,323.4 L184.2,324.0 L184.2,323.4Z" fill="#000"/>
<path d="M209.2,323.4 L209.2,323.0 L210.1,323.4 L208.9,319.5 L207.6,323.4 L208.5,323.0 L208.5,323.4Z" fill="#000"/>
<path d="M234.3,323.0 L233.9,322.7 L234.9,322.2 L230.2,320.8 L233.2,324.6 L233.4,323.5 L233.8,323.8Z" fill="#000"/>
<path d="M259.5,322.7 L258.8,322.5 L259.9,321.3 L252.6,321.2 L258.5,325.5 L258.4,323.8 L259.0,324.1Z" fill="#000"/>
<path d="M284.6,322.7 L283.9,322.5 L285.0,321.3 L277.6,321.7 L283.9,325.5 L283.6,323.9 L284.3,324.1Z" fill="#000"/>
<path d="M309.8,322.7 L306.3,321.9 L307.3,320.6 L300.0,321.1 L306.3,324.9 L306.0,323.2 L309.5,324.1Z" fill="#000"/>
<path d="M334.9,322.7 L328.1,321.9 L329.0,320.5 L321.8,321.8 L328.5,324.8 L328.0,323.3 L334.7,324.1Z" fill="#000"/>
<path d="M360.1,322.7 L349.8,321.3 L350.7,319.9 L343.5,321.1 L350.1,324.2 L349.6,322.7 L359.9,324.1Z" fill="#000"/>
<path d="M385.1,322.7 L374.4,324.0 L374.9,322.4 L368.2,325.4 L375.4,326.8 L374.5,325.3 L385.3,324.1Z" fill="#000"/>
<path d="M411.0,323.1 L410.8,322.5 L412.4,322.6 L407.8,316.9 L408.3,324.2 L409.5,323.0 L409.7,323.6Z" fill="#000"/>
<path d="M436.0,322.9 L432.0,319.1 L433.5,318.5 L426.9,315.4 L430.5,321.7 L431.0,320.2 L435.1,323.9Z" fill="#000"/>
<path d="M461.0,322.7 L455.9,320.9 L457.1,319.8 L449.8,319.5 L455.6,323.9 L455.5,322.3 L460.5,324.0Z" fill="#000"/>
<path d="M486.6,323.0 L485.7,321.5 L487.3,321.4 L481.9,316.5 L483.5,323.6 L484.5,322.3 L485.3,323.7Z" fill="#000"/>
<path d="M511.8,323.1 L506.8,314.2 L508.5,314.0 L503.1,309.0 L504.6,316.2 L505.6,314.8 L510.5,323.7Z" fill="#000"/>
<path d="M537.0,323.2 L536.3,319.8 L537.9,320.2 L534.3,313.8 L533.6,321.1 L534.9,320.1 L535.6,323.5Z" fill="#000"/>
<path d="M561.9,322.8 L560.3,321.8 L561.6,320.9 L554.5,319.1 L559.3,324.6 L559.5,323.0 L561.2,324.0Z" fill="#000"/>
<path d="M587.4,323.3 L587.0,319.6 L588.6,320.1 L585.7,313.4 L584.2,320.6 L585.6,319.7 L586.0,323.5Z" fill="#000"/>
<path d="M612.6,323.5 L616.1,306.2 L617.5,307.2 L616.7,299.9 L613.1,306.3 L614.8,305.9 L611.2,323.2Z" fill="#000"/>
<path d="M637.7,323.7 L644.9,309.1 L646.0,310.3 L647.1,303.1 L642.0,308.4 L643.7,308.4 L636.5,323.1Z" fill="#000"/>
<path d="M662.9,323.7 L670.5,308.5 L671.5,309.8 L672.7,302.6 L667.6,307.9 L669.2,307.9 L661.7,323.1Z" fill="#000"/>
<path d="M688.1,323.6 L699.1,292.0 L700.3,293.1 L700.5,285.8 L696.1,291.7 L697.7,291.5 L686.8,323.2Z" fill="#000"/>
<path d="M713.3,323.6 L720.9,296.6 L722.2,297.7 L722.0,290.4 L717.9,296.5 L719.6,296.3 L712.0,323.2Z" fill="#000"/>
<path d="M107.4,346.0 L107.6,346.7 L106.1,346.4 L109.7,352.4 L110.1,345.4 L108.9,346.4 L108.8,345.7Z" fill="#000"/>
<path d="M132.6,345.9 L132.6,346.6 L131.1,345.9 L133.3,352.9 L135.5,345.9 L134.0,346.6 L134.0,345.9Z" fill="#000"/>
<path d="M157.9,345.9 L157.9,346.4 L156.7,345.9 L158.5,351.6 L160.3,345.9 L159.0,346.4 L159.0,345.9Z" fill="#000"/>
<path d="M183.4,345.5 L183.0,345.8 L182.9,344.7 L179.8,348.4 L184.5,347.1 L183.5,346.5 L183.9,346.3Z" fill="#000"/>
<path d="M209.2,345.9 L209.2,345.5 L210.1,345.9 L208.9,342.0 L207.6,345.9 L208.5,345.5 L208.5,345.9Z" fill="#000"/>
<path d="M234.3,345.5 L233.9,345.2 L234.9,344.7 L230.2,343.3 L233.2,347.1 L233.4,346.0 L233.8,346.3Z" fill="#000"/>
<path d="M259.5,345.2 L258.9,345.0 L260.1,343.8 L252.7,343.3 L258.4,347.9 L258.3,346.3 L259.0,346.5Z" fill="#000"/>
<path d="M284.7,345.2 L284.0,345.0 L285.1,343.8 L277.8,343.7 L283.7,348.0 L283.5,346.3 L284.2,346.5Z" fill="#000"/>
<path d="M309.7,345.2 L306.3,344.6 L307.3,343.2 L300.0,344.1 L306.5,347.5 L306.1,345.9 L309.5,346.6Z" fill="#000"/>
<path d="M335.0,345.2 L329.2,343.7 L330.2,342.5 L322.9,342.9 L329.2,346.7 L328.8,345.1 L334.6,346.6Z" fill="#000"/>
<path d="M360.1,345.2 L355.6,344.4 L356.6,343.1 L349.3,344.1 L355.8,347.4 L355.4,345.8 L359.9,346.6Z" fill="#000"/>
<path d="M385.9,345.7 L380.4,328.2 L382.1,328.4 L377.9,322.4 L377.9,329.7 L379.1,328.6 L384.5,346.1Z" fill="#000"/>
<path d="M435.6,345.2 L429.9,344.8 L430.7,343.4 L423.6,345.2 L430.4,347.8 L429.8,346.2 L435.5,346.6Z" fill="#000"/>
<path d="M461.1,345.3 L449.5,338.2 L450.9,337.3 L443.8,335.6 L448.6,341.1 L448.8,339.4 L460.4,346.5Z" fill="#000"/>
<path d="M486.6,345.7 L485.7,342.9 L487.3,343.1 L483.0,337.2 L483.2,344.5 L484.3,343.4 L485.3,346.1Z" fill="#000"/>
<path d="M511.8,345.6 L507.1,335.1 L508.8,335.1 L503.9,329.6 L504.8,336.9 L505.8,335.6 L510.5,346.2Z" fill="#000"/>
<path d="M537.0,345.9 L537.0,335.9 L538.5,336.6 L536.3,329.6 L534.1,336.6 L535.6,335.9 L535.6,345.9Z" fill="#000"/>
<path d="M562.2,345.7 L561.8,343.6 L563.4,344.0 L559.9,337.6 L559.1,344.9 L560.4,343.9 L560.8,346.0Z" fill="#000"/>
<path d="M587.4,345.7 L583.4,326.3 L585.0,326.7 L581.4,320.3 L580.7,327.6 L582.0,326.6 L586.0,346.0Z" fill="#000"/>
<path d="M612.6,346.0 L615.0,326.6 L616.4,327.5 L615.1,320.3 L612.0,327.0 L613.6,326.4 L611.2,345.8Z" fill="#000"/>
<path d="M637.8,345.8 L637.3,339.8 L638.8,340.4 L636.1,333.6 L634.5,340.7 L635.9,339.9 L636.4,345.9Z" fill="#000"/>
<path d="M663.0,345.8 L662.3,334.5 L663.9,335.1 L661.3,328.3 L659.5,335.4 L660.9,334.6 L661.6,345.9Z" fill="#000"/>
<path d="M688.1,346.2 L694.6,332.8 L695.7,334.1 L696.8,326.9 L691.7,332.2 L693.4,332.2 L686.8,345.6Z" fill="#000"/>
<path d="M713.3,346.2 L731.1,312.8 L732.1,314.1 L733.5,306.9 L728.2,312.0 L729.9,312.1 L712.0,345.6Z" fill="#000"/>
<path d="M107.4,368.5 L107.6,369.2 L106.1,368.9 L109.7,374.9 L110.1,367.9 L108.9,368.9 L108.8,368.2Z" fill="#000"/>
<path d="M132.6,368.2 L132.5,368.9 L131.2,367.9 L131.7,374.9 L135.3,368.9 L133.8,369.2 L133.9,368.5Z" fill="#000"/>
<path d="M158.9,368.4 L158.9,368.0 L159.7,368.4 L158.5,364.5 L157.3,368.4 L158.1,368.0 L158.1,368.4Z" fill="#000"/>
<path d="M184.1,368.4 L184.1,368.0 L184.9,368.4 L183.7,364.5 L182.4,368.4 L183.3,368.0 L183.3,368.4Z" fill="#000"/>
<path d="M209.2,368.4 L209.2,368.0 L210.1,368.4 L208.9,364.5 L207.6,368.4 L208.5,368.0 L208.5,368.4Z" fill="#000"/>
<path d="M234.2,367.7 L233.6,367.6 L234.6,366.3 L227.5,366.7 L233.5,370.4 L233.2,368.9 L233.9,369.0Z" fill="#000"/>
<path d="M259.4,367.7 L258.5,367.5 L259.5,366.2 L252.2,366.9 L258.6,370.5 L258.3,368.9 L259.1,369.1Z" fill="#000"/>
<path d="M284.6,367.7 L283.2,367.4 L284.2,366.1 L276.9,366.9 L283.4,370.4 L283.0,368.8 L284.3,369.1Z" fill="#000"/>
<path d="M309.8,367.7 L306.3,366.8 L307.3,365.5 L300.0,365.9 L306.2,369.8 L305.9,368.1 L309.4,369.0Z" fill="#000"/>
<path d="M334.9,367.7 L327.1,366.3 L328.1,364.9 L320.8,365.9 L327.3,369.3 L326.9,367.7 L334.7,369.1Z" fill="#000"/>
<path d="M360.2,367.7 L342.8,361.1 L344.0,359.9 L336.7,359.5 L342.5,364.0 L342.3,362.4 L359.8,369.0Z" fill="#000"/>
<path d="M385.1,367.7 L378.4,368.2 L379.0,366.6 L372.2,369.4 L379.3,371.0 L378.5,369.6 L385.2,369.1Z" fill="#000"/>
<path d="M410.4,367.7 L403.4,367.3 L404.2,365.8 L397.1,367.7 L404.0,370.2 L403.3,368.7 L410.3,369.1Z" fill="#000"/>
<path d="M436.0,367.8 L433.4,365.8 L434.9,365.0 L428.1,362.4 L432.2,368.5 L432.6,366.9 L435.1,368.9Z" fill="#000"/>
<path d="M461.2,367.8 L453.0,362.0 L454.4,361.2 L447.5,359.0 L451.9,364.8 L452.2,363.2 L460.4,368.9Z" fill="#000"/>
<path d="M486.5,368.0 L478.9,355.9 L480.6,355.7 L475.0,351.0 L476.8,358.1 L477.7,356.7 L485.4,368.7Z" fill="#000"/>
<path d="M510.7,368.4 L510.7,368.9 L509.6,368.4 L511.1,373.2 L512.6,368.4 L511.6,368.9 L511.6,368.4Z" fill="#000"/>
<path d="M536.7,368.8 L537.1,368.4 L537.6,369.6 L540.3,364.4 L535.1,367.1 L536.3,367.6 L535.9,368.0Z" fill="#000"/>
<path d="M561.9,367.8 L560.3,366.9 L561.7,365.9 L554.5,364.4 L559.5,369.8 L559.6,368.1 L561.2,369.0Z" fill="#000"/>
<path d="M587.4,368.6 L594.4,350.5 L595.5,351.7 L596.0,344.4 L591.4,350.1 L593.1,350.0 L586.1,368.1Z" fill="#000"/>
<path d="M612.4,368.8 L612.8,368.4 L613.3,369.8 L616.5,363.8 L610.5,366.9 L611.9,367.5 L611.4,367.9Z" fill="#000"/>
<path d="M637.7,368.7 L643.3,357.1 L644.3,358.3 L645.4,351.1 L640.4,356.4 L642.0,356.4 L636.5,368.1Z" fill="#000"/>
<path d="M663.0,368.3 L662.5,361.3 L664.0,361.9 L661.3,355.1 L659.6,362.2 L661.1,361.4 L661.6,368.4Z" fill="#000"/>
<path d="M688.1,368.6 L688.7,366.6 L690.0,367.7 L689.9,360.4 L685.8,366.4 L687.4,366.2 L686.8,368.2Z" fill="#000"/>
<path d="M713.3,368.1 L706.1,353.7 L707.8,353.6 L702.7,348.4 L703.8,355.6 L704.9,354.3 L712.0,368.7Z" fill="#000"/>
<path d="M108.5,390.9 L108.5,390.5 L109.3,390.9 L108.1,387.0 L106.9,390.9 L107.7,390.5 L107.7,390.9Z" fill="#000"/>
<path d="M133.1,390.4 L132.6,390.6 L132.6,389.5 L128.8,393.1 L134.0,392.3 L133.1,391.5 L133.5,391.3Z" fill="#000"/>
<path d="M158.9,390.9 L158.9,390.5 L159.7,390.9 L158.5,387.0 L157.3,390.9 L158.1,390.5 L158.1,390.9Z" fill="#000"/>
<path d="M183.4,390.4 L182.9,390.8 L182.7,389.5 L179.5,394.0 L184.7,392.2 L183.6,391.6 L184.0,391.3Z" fill="#000"/>
<path d="M208.8,390.2 L208.1,390.2 L208.7,388.7 L201.9,391.4 L209.0,393.1 L208.2,391.6 L208.9,391.6Z" fill="#000"/>
<path d="M234.1,390.4 L233.6,390.4 L234.1,389.5 L229.7,390.9 L234.1,392.2 L233.6,391.3 L234.1,391.3Z" fill="#000"/>
<path d="M259.3,390.2 L252.6,389.2 L253.5,387.8 L246.2,389.1 L252.9,392.2 L252.4,390.6 L259.1,391.6Z" fill="#000"/>
<path d="M284.5,390.2 L277.8,389.2 L278.7,387.8 L271.4,389.1 L278.1,392.2 L277.6,390.6 L284.3,391.6Z" fill="#000"/>
<path d="M309.8,390.2 L306.3,389.3 L307.3,388.0 L300.0,388.4 L306.2,392.3 L305.9,390.6 L309.4,391.5Z" fill="#000"/>
<path d="M334.9,390.2 L321.2,388.1 L322.2,386.7 L314.9,387.9 L321.5,391.1 L321.0,389.5 L334.7,391.6Z" fill="#000"/>
<path d="M360.0,390.2 L340.7,389.6 L341.5,388.2 L334.4,390.2 L341.3,392.6 L340.7,391.0 L360.0,391.6Z" fill="#000"/>
<path d="M385.3,390.2 L376.2,388.7 L377.2,387.3 L369.9,388.4 L376.4,391.7 L376.0,390.1 L385.1,391.6Z" fill="#000"/>
<path d="M410.8,390.3 L402.2,382.6 L403.8,381.9 L397.1,378.9 L400.8,385.2 L401.3,383.6 L409.9,391.4Z" fill="#000"/>
<path d="M435.9,390.3 L424.7,383.6 L426.0,382.7 L418.9,381.1 L423.8,386.5 L423.9,384.9 L435.2,391.5Z" fill="#000"/>
<path d="M461.5,390.8 L461.3,389.6 L462.9,390.1 L460.1,383.4 L458.5,390.5 L459.9,389.7 L460.1,390.9Z" fill="#000"/>
<path d="M486.3,391.3 L486.7,390.9 L487.2,392.1 L489.9,386.9 L484.7,389.6 L486.0,390.1 L485.6,390.5Z" fill="#000"/>
<path d="M511.8,390.8 L510.1,379.7 L511.7,380.1 L508.4,373.6 L507.3,380.8 L508.7,379.9 L510.4,391.0Z" fill="#000"/>
<path d="M537.0,390.6 L533.2,382.7 L534.9,382.7 L529.9,377.3 L530.9,384.5 L532.0,383.3 L535.7,391.2Z" fill="#000"/>
<path d="M561.9,390.9 L561.9,390.5 L562.7,390.9 L561.5,387.0 L560.3,390.9 L561.1,390.5 L561.1,390.9Z" fill="#000"/>
<path d="M587.3,390.5 L582.4,382.0 L584.1,381.8 L578.7,376.9 L580.3,384.0 L581.2,382.7 L586.1,391.2Z" fill="#000"/>
<path d="M612.3,390.6 L612.0,390.2 L613.1,390.1 L609.3,387.0 L610.7,391.7 L611.3,390.7 L611.5,391.1Z" fill="#000"/>
<path d="M637.8,390.9 L637.8,378.2 L639.3,378.9 L637.1,371.9 L634.9,378.9 L636.4,378.2 L636.4,390.9Z" fill="#000"/>
<path d="M663.0,390.7 L660.5,377.9 L662.1,378.3 L658.6,371.9 L657.8,379.2 L659.1,378.2 L661.6,391.0Z" fill="#000"/>
<path d="M688.1,391.2 L694.6,377.8 L695.7,379.1 L696.8,371.9 L691.7,377.2 L693.4,377.2 L686.8,390.6Z" fill="#000"/>
<path d="M713.3,390.7 L710.2,380.4 L711.8,380.6 L707.7,374.6 L707.6,381.9 L708.8,380.8 L712.0,391.1Z" fill="#000"/>
<path d="M108.5,413.3 L108.5,413.0 L109.3,413.3 L108.1,409.4 L106.9,413.3 L107.7,413.0 L107.7,413.3Z" fill="#000"/>
<path d="M133.3,412.6 L132.6,412.6 L133.3,411.1 L126.3,413.3 L133.3,415.5 L132.6,414.0 L133.3,414.0Z" fill="#000"/>
<path d="M158.5,412.9 L158.0,412.9 L158.5,412.0 L154.1,413.3 L158.5,414.7 L158.0,413.8 L158.5,413.8Z" fill="#000"/>
<path d="M183.7,412.9 L183.2,412.9 L183.7,411.8 L178.9,413.3 L183.7,414.9 L183.2,413.8 L183.7,413.8Z" fill="#000"/>
<path d="M208.9,412.6 L206.7,412.6 L207.4,411.1 L200.4,413.3 L207.4,415.5 L206.7,414.0 L208.9,414.0Z" fill="#000"/>
<path d="M234.2,412.7 L230.3,411.7 L231.4,410.4 L224.1,410.8 L230.3,414.7 L230.0,413.1 L233.9,414.0Z" fill="#000"/>
<path d="M259.3,412.7 L252.6,411.6 L253.5,410.2 L246.2,411.3 L252.8,414.6 L252.4,413.0 L259.1,414.0Z" fill="#000"/>
<path d="M284.5,412.7 L278.2,411.9 L279.0,410.5 L271.8,411.9 L278.5,414.9 L278.0,413.3 L284.4,414.0Z" fill="#000"/>
<path d="M309.7,412.7 L306.4,412.2 L307.3,410.8 L300.0,411.9 L306.6,415.1 L306.2,413.6 L309.5,414.0Z" fill="#000"/>
<path d="M335.0,412.7 L324.6,409.6 L325.6,408.4 L318.3,408.5 L324.4,412.6 L324.2,411.0 L334.6,414.0Z" fill="#000"/>
<path d="M360.3,412.7 L350.7,408.0 L352.0,407.0 L344.7,405.8 L350.0,410.9 L350.0,409.3 L359.7,414.0Z" fill="#000"/>
<path d="M385.7,412.8 L379.6,407.3 L381.1,406.7 L374.5,403.5 L378.2,409.9 L378.7,408.3 L384.7,413.9Z" fill="#000"/>
<path d="M411.0,413.0 L404.5,402.5 L406.1,402.3 L400.6,397.5 L402.4,404.7 L403.3,403.3 L409.8,413.7Z" fill="#000"/>
<path d="M436.1,412.9 L429.0,403.9 L430.6,403.5 L424.6,399.3 L427.2,406.2 L427.9,404.7 L435.0,413.8Z" fill="#000"/>
<path d="M460.3,413.3 L460.3,413.8 L459.3,413.3 L460.8,418.1 L462.3,413.3 L461.2,413.8 L461.2,413.3Z" fill="#000"/>
<path d="M486.2,412.7 L477.6,409.1 L478.9,408.0 L471.6,407.3 L477.2,412.1 L477.1,410.4 L485.7,414.0Z" fill="#000"/>
<path d="M510.9,412.7 L505.9,414.3 L506.1,412.6 L500.1,416.8 L507.5,416.8 L506.4,415.6 L511.4,414.0Z" fill="#000"/>
<path d="M536.9,412.9 L536.2,412.0 L537.9,411.7 L532.0,407.2 L534.3,414.2 L535.1,412.8 L535.8,413.8Z" fill="#000"/>
<path d="M562.1,413.8 L566.3,408.7 L567.0,410.2 L569.8,403.4 L563.6,407.4 L565.2,407.8 L561.0,412.9Z" fill="#000"/>
<path d="M587.1,413.3 L587.1,412.9 L588.1,413.3 L586.7,409.0 L585.3,413.3 L586.3,412.9 L586.3,413.3Z" fill="#000"/>
<path d="M612.6,413.2 L610.9,406.8 L612.6,407.1 L608.7,400.8 L608.3,408.2 L609.6,407.1 L611.2,413.5Z" fill="#000"/>
<path d="M637.8,413.2 L637.6,412.5 L639.2,412.9 L635.6,406.5 L634.9,413.8 L636.3,412.8 L636.4,413.5Z" fill="#000"/>
<path d="M662.7,413.3 L662.7,413.0 L663.5,413.3 L662.3,409.4 L661.1,413.3 L661.9,413.0 L661.9,413.3Z" fill="#000"/>
<path d="M688.1,413.7 L694.4,404.3 L695.3,405.7 L697.4,398.6 L691.6,403.2 L693.3,403.5 L686.9,413.0Z" fill="#000"/>
<path d="M713.4,413.3 L713.4,400.9 L714.9,401.6 L712.7,394.6 L710.5,401.6 L712.0,400.9 L712.0,413.3Z" fill="#000"/>
<path d="M108.5,435.8 L108.5,435.4 L109.3,435.8 L108.1,431.9 L106.9,435.8 L107.7,435.4 L107.7,435.8Z" fill="#000"/>
<path d="M133.5,435.2 L131.2,434.3 L132.4,433.1 L125.1,432.6 L130.8,437.2 L130.7,435.6 L133.0,436.5Z" fill="#000"/>
<path d="M158.5,435.1 L157.8,435.1 L158.5,433.6 L151.5,435.8 L158.5,438.0 L157.8,436.5 L158.5,436.5Z" fill="#000"/>
<path d="M183.5,435.2 L182.8,435.3 L183.2,433.7 L176.9,437.4 L184.2,438.0 L183.1,436.7 L183.8,436.5Z" fill="#000"/>
<path d="M209.0,435.1 L203.2,434.2 L204.1,432.8 L196.9,433.8 L203.4,437.2 L203.0,435.6 L208.7,436.5Z" fill="#000"/>
<path d="M234.1,435.1 L229.7,434.7 L230.5,433.3 L223.4,434.8 L230.1,437.7 L229.6,436.1 L234.0,436.5Z" fill="#000"/>
<path d="M259.2,435.1 L252.5,435.1 L253.2,433.6 L246.2,435.8 L253.2,438.0 L252.5,436.5 L259.2,436.5Z" fill="#000"/>
<path d="M284.5,435.1 L277.8,434.6 L278.6,433.2 L271.4,434.8 L278.2,437.6 L277.7,436.0 L284.4,436.5Z" fill="#000"/>
<path d="M309.7,435.1 L306.3,434.6 L307.3,433.2 L300.0,434.2 L306.6,437.6 L306.1,436.0 L309.5,436.5Z" fill="#000"/>
<path d="M335.1,435.2 L332.5,434.2 L333.6,433.0 L326.3,432.6 L332.1,437.2 L332.0,435.5 L334.6,436.5Z" fill="#000"/>
<path d="M360.4,435.3 L355.0,431.7 L356.4,430.8 L349.3,428.8 L354.0,434.5 L354.2,432.9 L359.6,436.4Z" fill="#000"/>
<path d="M385.6,435.3 L385.0,434.9 L386.4,434.0 L379.3,432.1 L384.0,437.7 L384.2,436.1 L384.8,436.4Z" fill="#000"/>
<path d="M410.8,435.3 L400.9,427.9 L402.4,427.1 L395.5,424.6 L399.8,430.6 L400.1,429.0 L410.0,436.4Z" fill="#000"/>
<path d="M435.5,435.1 L424.0,435.6 L424.7,434.1 L417.8,436.5 L424.9,438.5 L424.1,437.0 L435.6,436.5Z" fill="#000"/>
<path d="M461.0,435.2 L449.2,431.5 L450.3,430.3 L443.0,430.3 L449.0,434.5 L448.8,432.9 L460.6,436.5Z" fill="#000"/>
<path d="M485.6,435.3 L482.0,437.7 L481.8,436.1 L477.3,441.8 L484.3,439.7 L482.8,438.8 L486.3,436.4Z" fill="#000"/>
<path d="M510.7,435.3 L505.6,439.6 L505.2,438.0 L501.2,444.1 L508.0,441.3 L506.5,440.6 L511.6,436.4Z" fill="#000"/>
<path d="M536.7,435.3 L536.2,435.0 L537.4,434.2 L531.1,432.4 L535.2,437.5 L535.5,436.0 L536.0,436.4Z" fill="#000"/>
<path d="M562.2,436.1 L565.1,427.6 L566.3,428.8 L566.5,421.4 L562.1,427.3 L563.8,427.2 L560.9,435.6Z" fill="#000"/>
<path d="M587.1,435.3 L586.6,434.9 L588.0,434.1 L581.1,431.6 L585.4,437.6 L585.7,436.0 L586.3,436.4Z" fill="#000"/>
<path d="M612.6,435.6 L611.5,432.5 L613.1,432.7 L608.7,426.8 L609.0,434.2 L610.2,433.0 L611.2,436.1Z" fill="#000"/>
<path d="M637.7,435.5 L633.5,426.8 L635.1,426.8 L630.1,421.4 L631.2,428.7 L632.2,427.4 L636.5,436.1Z" fill="#000"/>
<path d="M662.7,435.8 L662.7,435.4 L663.5,435.8 L662.3,431.9 L661.1,435.8 L661.9,435.4 L661.9,435.8Z" fill="#000"/>
<path d="M688.0,435.4 L681.9,427.4 L683.5,427.0 L677.5,422.8 L680.0,429.7 L680.8,428.3 L686.9,436.3Z" fill="#000"/>
<path d="M713.4,435.8 L713.4,418.4 L714.9,419.1 L712.7,412.1 L710.5,419.1 L712.0,418.4 L712.0,435.8Z" fill="#000"/>
<path d="M108.5,458.3 L108.5,457.9 L109.3,458.3 L108.1,454.4 L106.9,458.3 L107.7,457.9 L107.7,458.3Z" fill="#000"/>
<path d="M133.3,457.6 L132.6,457.6 L133.3,456.1 L126.3,458.3 L133.3,460.5 L132.6,459.0 L133.3,459.0Z" fill="#000"/>
<path d="M158.5,457.6 L156.6,457.5 L157.4,456.0 L150.3,457.6 L157.1,460.4 L156.5,458.9 L158.4,459.0Z" fill="#000"/>
<path d="M183.6,457.6 L179.4,458.0 L179.9,456.5 L173.2,459.3 L180.3,460.9 L179.5,459.4 L183.7,459.0Z" fill="#000"/>
<path d="M209.2,457.7 L202.7,454.3 L204.1,453.3 L196.9,451.9 L202.0,457.2 L202.1,455.5 L208.5,458.9Z" fill="#000"/>
<path d="M233.9,457.6 L226.6,459.1 L227.0,457.5 L220.6,461.0 L227.8,461.8 L226.9,460.5 L234.2,459.0Z" fill="#000"/>
<path d="M259.3,457.6 L251.6,456.9 L252.4,455.4 L245.2,456.9 L252.0,459.8 L251.4,458.3 L259.2,459.0Z" fill="#000"/>
<path d="M284.5,457.6 L274.3,456.5 L275.1,455.1 L267.9,456.5 L274.7,459.5 L274.1,457.9 L284.4,459.0Z" fill="#000"/>
<path d="M309.7,457.6 L306.3,457.0 L307.3,455.7 L300.0,456.5 L306.5,460.0 L306.1,458.4 L309.5,459.0Z" fill="#000"/>
<path d="M335.1,457.7 L324.0,453.5 L325.1,452.3 L317.8,451.9 L323.6,456.5 L323.5,454.8 L334.6,459.0Z" fill="#000"/>
<path d="M359.4,458.3 L359.4,459.0 L358.0,458.3 L360.0,464.8 L362.0,458.3 L360.6,459.0 L360.6,458.3Z" fill="#000"/>
<path d="M384.8,458.3 L384.8,458.7 L384.0,458.3 L385.2,462.2 L386.4,458.3 L385.6,458.7 L385.6,458.3Z" fill="#000"/>
<path d="M410.0,458.3 L410.0,458.7 L409.2,458.3 L410.4,462.2 L411.6,458.3 L410.8,458.7 L410.8,458.3Z" fill="#000"/>
<path d="M435.7,457.7 L433.1,457.0 L434.2,455.7 L426.9,456.0 L433.1,459.9 L432.8,458.3 L435.4,459.0Z" fill="#000"/>
<path d="M461.2,457.8 L451.8,450.6 L453.3,449.8 L446.4,447.3 L450.6,453.3 L450.9,451.7 L460.3,458.9Z" fill="#000"/>
<path d="M486.0,457.7 L485.3,457.7 L486.0,456.2 L479.3,458.3 L486.0,460.4 L485.3,459.0 L486.0,459.0Z" fill="#000"/>
<path d="M511.7,458.5 L511.9,458.0 L512.9,458.9 L513.0,452.8 L509.4,457.7 L510.8,457.6 L510.6,458.1Z" fill="#000"/>
<path d="M536.7,458.3 L536.7,457.9 L537.6,458.3 L536.3,454.4 L535.1,458.3 L535.9,457.9 L535.9,458.3Z" fill="#000"/>
<path d="M561.9,458.3 L561.9,457.9 L562.7,458.3 L561.5,454.4 L560.3,458.3 L561.1,457.9 L561.1,458.3Z" fill="#000"/>
<path d="M587.2,457.9 L586.0,456.3 L587.6,455.9 L581.4,451.9 L584.2,458.7 L584.9,457.2 L586.2,458.8Z" fill="#000"/>
<path d="M612.6,458.1 L612.4,457.5 L614.0,457.7 L609.8,451.6 L609.8,459.0 L611.0,457.9 L611.2,458.5Z" fill="#000"/>
<path d="M637.8,458.3 L637.8,451.6 L639.3,452.3 L637.1,445.3 L634.9,452.3 L636.4,451.6 L636.4,458.3Z" fill="#000"/>
<path d="M663.0,458.3 L662.7,455.5 L664.2,456.0 L661.3,449.3 L659.9,456.5 L661.3,455.7 L661.6,458.4Z" fill="#000"/>
<path d="M688.2,458.3 L687.5,444.9 L689.0,445.5 L686.5,438.6 L684.6,445.7 L686.1,445.0 L686.8,458.4Z" fill="#000"/>
<path d="M713.3,458.1 L709.2,444.5 L710.9,444.7 L706.8,438.6 L706.7,446.0 L707.9,444.9 L712.0,458.5Z" fill="#000"/>
<path d="M108.5,480.8 L108.5,480.4 L109.3,480.8 L108.1,476.9 L106.9,480.8 L107.7,480.4 L107.7,480.8Z" fill="#000"/>
<path d="M133.7,480.3 L133.2,479.8 L134.7,479.1 L127.8,476.4 L131.9,482.5 L132.3,480.9 L132.9,481.4Z" fill="#000"/>
<path d="M159.0,480.4 L152.4,472.0 L154.0,471.7 L148.0,467.5 L150.6,474.4 L151.3,472.9 L157.9,481.3Z" fill="#000"/>
<path d="M183.7,480.1 L176.0,479.6 L176.8,478.1 L169.7,479.8 L176.5,482.5 L175.9,481.0 L183.6,481.5Z" fill="#000"/>
<path d="M208.8,480.1 L204.8,480.3 L205.4,478.8 L198.6,481.3 L205.7,483.2 L204.9,481.7 L208.9,481.5Z" fill="#000"/>
<path d="M233.9,480.1 L224.3,482.1 L224.7,480.5 L218.2,484.0 L225.5,484.8 L224.6,483.5 L234.2,481.5Z" fill="#000"/>
<path d="M259.2,480.1 L249.7,480.4 L250.4,478.9 L243.4,481.3 L250.5,483.3 L249.8,481.8 L259.3,481.5Z" fill="#000"/>
<path d="M284.5,480.1 L272.1,478.9 L272.9,477.5 L265.7,479.0 L272.5,481.9 L271.9,480.3 L284.4,481.5Z" fill="#000"/>
<path d="M309.8,480.1 L306.3,479.2 L307.3,478.0 L300.0,478.3 L306.2,482.2 L305.9,480.6 L309.4,481.5Z" fill="#000"/>
<path d="M334.8,480.1 L323.5,480.1 L324.2,478.6 L317.2,480.8 L324.2,483.0 L323.5,481.5 L334.8,481.5Z" fill="#000"/>
<path d="M360.4,480.3 L357.5,477.9 L359.0,477.2 L352.2,474.4 L356.2,480.6 L356.6,479.0 L359.6,481.4Z" fill="#000"/>
<path d="M385.6,480.8 L385.6,480.4 L386.4,480.8 L385.2,476.9 L384.0,480.8 L384.8,480.4 L384.8,480.8Z" fill="#000"/>
<path d="M410.4,480.1 L402.3,479.3 L403.2,477.9 L396.0,479.4 L402.7,482.3 L402.2,480.7 L410.3,481.5Z" fill="#000"/>
<path d="M435.7,480.1 L418.3,475.7 L419.4,474.4 L412.1,474.8 L418.3,478.7 L418.0,477.1 L435.4,481.5Z" fill="#000"/>
<path d="M460.8,480.1 L448.1,479.2 L448.9,477.7 L441.8,479.4 L448.6,482.1 L448.0,480.6 L460.7,481.5Z" fill="#000"/>
<path d="M485.6,480.8 L485.6,481.2 L484.7,480.8 L486.0,484.7 L487.2,480.8 L486.3,481.2 L486.3,480.8Z" fill="#000"/>
<path d="M510.8,480.2 L506.2,483.2 L505.9,481.6 L501.2,487.2 L508.3,485.3 L506.9,484.4 L511.5,481.4Z" fill="#000"/>
<path d="M536.7,480.8 L536.7,480.4 L537.6,480.8 L536.3,476.9 L535.1,480.8 L535.9,480.4 L535.9,480.8Z" fill="#000"/>
<path d="M561.7,481.5 L562.3,481.3 L562.0,482.9 L568.0,479.2 L561.0,478.8 L562.0,480.0 L561.4,480.2Z" fill="#000"/>
<path d="M587.4,480.8 L587.4,480.1 L588.9,480.8 L586.7,473.8 L584.5,480.8 L586.0,480.1 L586.0,480.8Z" fill="#000"/>
<path d="M612.6,480.6 L612.0,478.7 L613.6,478.9 L609.5,472.8 L609.4,480.2 L610.6,479.1 L611.2,481.0Z" fill="#000"/>
<path d="M637.8,480.8 L637.8,472.4 L639.3,473.1 L637.1,466.1 L634.9,473.1 L636.4,472.4 L636.4,480.8Z" fill="#000"/>
<path d="M662.9,480.6 L658.8,469.7 L660.4,469.8 L655.9,464.0 L656.3,471.3 L657.5,470.2 L661.6,481.1Z" fill="#000"/>
<path d="M688.1,480.5 L682.3,466.8 L683.9,466.9 L679.2,461.3 L679.9,468.6 L681.0,467.4 L686.8,481.1Z" fill="#000"/>
<path d="M713.4,480.8 L712.8,474.2 L714.4,474.8 L711.7,468.0 L710.0,475.2 L711.5,474.4 L712.0,480.9Z" fill="#000"/>
<path d="M108.5,503.3 L108.5,502.9 L109.3,503.3 L108.1,499.4 L106.9,503.3 L107.7,502.9 L107.7,503.3Z" fill="#000"/>
<path d="M133.8,502.9 L129.2,497.4 L130.8,496.9 L124.6,493.0 L127.4,499.8 L128.1,498.3 L132.8,503.8Z" fill="#000"/>
<path d="M158.5,502.6 L155.4,502.6 L156.1,501.1 L149.1,503.3 L156.1,505.5 L155.4,504.0 L158.5,504.0Z" fill="#000"/>
<path d="M183.8,502.6 L177.1,500.9 L178.2,499.6 L170.9,499.9 L177.1,503.8 L176.8,502.2 L183.5,504.0Z" fill="#000"/>
<path d="M208.9,502.6 L199.9,502.0 L200.7,500.5 L193.6,502.2 L200.4,504.9 L199.8,503.4 L208.8,504.0Z" fill="#000"/>
<path d="M234.0,502.6 L218.3,503.1 L219.0,501.6 L212.1,504.0 L219.1,506.0 L218.4,504.5 L234.1,504.0Z" fill="#000"/>
<path d="M259.2,502.6 L246.8,503.1 L247.5,501.5 L240.5,504.0 L247.6,505.9 L246.9,504.5 L259.3,504.0Z" fill="#000"/>
<path d="M284.4,502.6 L270.4,503.1 L271.1,501.6 L264.1,504.0 L271.2,506.0 L270.5,504.5 L284.5,504.0Z" fill="#000"/>
<path d="M309.7,502.6 L306.4,502.3 L307.2,500.8 L300.0,502.3 L306.8,505.2 L306.2,503.7 L309.5,504.0Z" fill="#000"/>
<path d="M334.9,502.6 L334.3,502.5 L335.2,501.2 L327.9,501.9 L334.4,505.5 L334.0,503.9 L334.7,504.0Z" fill="#000"/>
<path d="M359.6,502.7 L351.9,507.8 L351.7,506.1 L347.0,511.8 L354.1,509.8 L352.7,508.9 L360.4,503.9Z" fill="#000"/>
<path d="M385.2,502.6 L379.6,502.3 L380.4,500.8 L373.3,502.6 L380.1,505.2 L379.5,503.7 L385.1,504.0Z" fill="#000"/>
<path d="M410.6,502.6 L399.9,499.7 L401.0,498.4 L393.7,498.7 L399.8,502.7 L399.6,501.1 L410.2,504.0Z" fill="#000"/>
<path d="M435.9,502.7 L423.8,497.3 L425.1,496.2 L417.8,495.3 L423.3,500.2 L423.2,498.5 L435.3,503.9Z" fill="#000"/>
<path d="M461.1,502.7 L449.6,496.6 L451.0,495.6 L443.8,494.2 L448.9,499.5 L449.0,497.8 L460.4,503.9Z" fill="#000"/>
<path d="M486.1,502.6 L478.9,500.8 L480.0,499.5 L472.7,499.9 L478.9,503.8 L478.6,502.1 L485.8,504.0Z" fill="#000"/>
<path d="M510.7,502.8 L509.5,503.7 L509.1,502.1 L505.1,508.3 L511.9,505.5 L510.4,504.8 L511.6,503.8Z" fill="#000"/>
<path d="M537.0,503.6 L538.2,500.9 L539.3,502.1 L540.0,494.8 L535.2,500.4 L536.9,500.3 L535.7,503.0Z" fill="#000"/>
<path d="M561.9,503.3 L561.9,502.9 L562.7,503.3 L561.5,499.4 L560.3,503.3 L561.1,502.9 L561.1,503.3Z" fill="#000"/>
<path d="M587.1,503.3 L587.1,502.9 L587.9,503.3 L586.7,499.4 L585.5,503.3 L586.3,502.9 L586.3,503.3Z" fill="#000"/>
<path d="M612.6,503.2 L610.5,491.0 L612.1,491.4 L608.7,484.9 L607.7,492.2 L609.1,491.2 L611.2,503.4Z" fill="#000"/>
<path d="M637.8,503.2 L636.2,492.2 L637.8,492.6 L634.7,486.0 L633.5,493.2 L634.9,492.3 L636.4,503.4Z" fill="#000"/>
<path d="M662.9,503.0 L655.8,488.2 L657.4,488.2 L652.4,482.8 L653.4,490.1 L654.5,488.8 L661.6,503.6Z" fill="#000"/>
<path d="M688.2,503.3 L687.6,486.4 L689.1,487.0 L686.7,480.1 L684.7,487.2 L686.2,486.4 L686.8,503.3Z" fill="#000"/>
<path d="M713.3,503.5 L721.5,477.0 L722.7,478.1 L722.7,470.8 L718.5,476.9 L720.1,476.6 L712.0,503.1Z" fill="#000"/>
<path d="M108.5,525.8 L108.5,525.4 L109.3,525.8 L108.1,521.9 L106.9,525.8 L107.7,525.4 L107.7,525.8Z" fill="#000"/>
<path d="M133.5,525.1 L125.7,522.5 L126.8,521.3 L119.5,521.1 L125.4,525.4 L125.2,523.8 L133.1,526.5Z" fill="#000"/>
<path d="M158.6,525.1 L150.4,523.3 L151.4,522.0 L144.1,522.7 L150.5,526.3 L150.1,524.7 L158.3,526.5Z" fill="#000"/>
<path d="M183.9,525.1 L177.5,523.1 L178.6,521.9 L171.3,521.8 L177.3,526.0 L177.1,524.4 L183.5,526.5Z" fill="#000"/>
<path d="M208.9,525.1 L197.0,524.6 L197.7,523.2 L190.7,525.1 L197.6,527.6 L196.9,526.0 L208.8,526.5Z" fill="#000"/>
<path d="M234.2,525.1 L223.1,523.1 L224.0,521.8 L216.8,522.7 L223.3,526.1 L222.8,524.5 L233.9,526.5Z" fill="#000"/>
<path d="M259.2,525.1 L243.7,526.0 L244.3,524.5 L237.4,527.1 L244.6,528.9 L243.8,527.4 L259.3,526.5Z" fill="#000"/>
<path d="M284.4,525.1 L269.7,525.7 L270.3,524.2 L263.4,526.7 L270.5,528.6 L269.8,527.1 L284.5,526.5Z" fill="#000"/>
<path d="M309.6,525.1 L306.3,525.1 L307.0,523.6 L300.0,525.8 L307.0,528.0 L306.3,526.5 L309.6,526.5Z" fill="#000"/>
<path d="M334.8,525.1 L325.8,525.0 L326.5,523.5 L319.5,525.6 L326.5,527.9 L325.8,526.4 L334.8,526.5Z" fill="#000"/>
<path d="M360.1,525.1 L350.3,523.6 L351.2,522.3 L344.0,523.4 L350.6,526.6 L350.1,525.0 L359.9,526.5Z" fill="#000"/>
<path d="M385.4,525.1 L380.7,523.5 L381.8,522.3 L374.5,522.2 L380.4,526.5 L380.2,524.9 L385.0,526.5Z" fill="#000"/>
<path d="M410.7,525.2 L404.6,521.5 L405.9,520.6 L398.8,518.9 L403.7,524.4 L403.8,522.7 L410.0,526.4Z" fill="#000"/>
<path d="M436.0,525.3 L431.4,521.1 L432.9,520.5 L426.3,517.4 L430.0,523.7 L430.5,522.1 L435.1,526.3Z" fill="#000"/>
<path d="M461.2,525.2 L452.0,518.3 L453.5,517.6 L446.6,515.1 L450.8,521.1 L451.2,519.5 L460.3,526.4Z" fill="#000"/>
<path d="M486.3,525.2 L482.5,523.0 L483.8,522.1 L476.7,520.5 L481.6,525.9 L481.8,524.2 L485.6,526.4Z" fill="#000"/>
<path d="M511.4,525.1 L508.3,524.1 L509.5,522.9 L502.1,522.6 L508.0,527.0 L507.8,525.4 L510.9,526.5Z" fill="#000"/>
<path d="M535.7,525.8 L535.7,526.5 L534.3,525.8 L536.3,532.4 L538.4,525.8 L537.0,526.5 L537.0,525.8Z" fill="#000"/>
<path d="M562.1,526.2 L563.5,524.2 L564.3,525.6 L566.5,518.6 L560.7,523.1 L562.4,523.4 L560.9,525.4Z" fill="#000"/>
<path d="M587.3,526.1 L588.5,523.7 L589.5,525.0 L590.7,517.8 L585.6,523.1 L587.3,523.1 L586.1,525.5Z" fill="#000"/>
<path d="M612.6,525.9 L614.5,510.2 L615.9,511.1 L614.6,503.9 L611.6,510.6 L613.1,510.1 L611.2,525.7Z" fill="#000"/>
<path d="M637.8,525.8 L638.6,501.1 L640.1,501.9 L638.1,494.8 L635.7,501.7 L637.2,501.1 L636.4,525.8Z" fill="#000"/>
<path d="M663.0,526.0 L668.4,505.1 L669.7,506.1 L669.3,498.8 L665.4,505.0 L667.0,504.7 L661.6,525.6Z" fill="#000"/>
<path d="M688.2,525.9 L693.8,491.6 L695.2,492.6 L694.2,485.3 L690.9,491.8 L692.5,491.4 L686.8,525.7Z" fill="#000"/>
<path d="M713.4,525.8 L714.0,507.6 L715.4,508.4 L713.5,501.3 L711.0,508.2 L712.6,507.6 L712.0,525.8Z" fill="#000"/>
<path d="M108.5,548.3 L108.5,547.9 L109.3,548.3 L108.1,544.4 L106.9,548.3 L107.7,547.9 L107.7,548.3Z" fill="#000"/>
<path d="M133.4,547.6 L123.6,546.5 L124.5,545.1 L117.3,546.5 L124.0,549.5 L123.5,547.9 L133.2,549.0Z" fill="#000"/>
<path d="M158.4,547.6 L145.2,548.8 L145.7,547.3 L139.0,550.1 L146.2,551.6 L145.3,550.2 L158.5,549.0Z" fill="#000"/>
<path d="M183.7,547.6 L173.1,546.9 L173.9,545.4 L166.8,547.2 L173.6,549.8 L173.0,548.3 L183.6,549.0Z" fill="#000"/>
<path d="M208.9,547.6 L196.3,547.0 L197.1,545.5 L190.0,547.4 L196.8,549.9 L196.2,548.4 L208.8,549.0Z" fill="#000"/>
<path d="M234.0,547.6 L217.4,548.1 L218.1,546.6 L211.2,549.0 L218.2,551.0 L217.5,549.5 L234.1,549.0Z" fill="#000"/>
<path d="M259.3,547.6 L243.2,547.3 L243.9,545.8 L236.8,547.9 L243.8,550.2 L243.1,548.7 L259.2,549.0Z" fill="#000"/>
<path d="M284.4,547.6 L268.0,548.1 L268.7,546.6 L261.7,549.0 L268.8,551.0 L268.0,549.5 L284.5,549.0Z" fill="#000"/>
<path d="M309.7,547.6 L306.3,547.0 L307.3,545.7 L300.0,546.7 L306.6,550.0 L306.1,548.4 L309.5,549.0Z" fill="#000"/>
<path d="M335.0,547.6 L326.6,544.8 L327.7,543.6 L320.4,543.4 L326.3,547.7 L326.1,546.1 L334.6,549.0Z" fill="#000"/>
<path d="M360.4,547.7 L353.5,543.3 L354.9,542.4 L347.8,540.5 L352.5,546.1 L352.7,544.5 L359.6,548.9Z" fill="#000"/>
<path d="M385.6,547.8 L379.7,542.6 L381.2,541.9 L374.5,539.0 L378.3,545.2 L378.8,543.7 L384.7,548.8Z" fill="#000"/>
<path d="M410.8,547.7 L402.8,542.1 L404.3,541.2 L397.3,539.0 L401.7,544.8 L402.0,543.2 L410.0,548.9Z" fill="#000"/>
<path d="M436.0,547.7 L427.4,541.9 L428.8,541.1 L421.8,539.0 L426.3,544.7 L426.6,543.1 L435.2,548.9Z" fill="#000"/>
<path d="M460.7,547.6 L457.1,548.0 L457.7,546.4 L451.0,549.4 L458.2,550.8 L457.3,549.4 L460.8,549.0Z" fill="#000"/>
<path d="M486.3,547.9 L486.0,547.5 L487.2,547.1 L482.0,544.4 L484.7,549.5 L485.2,548.3 L485.6,548.7Z" fill="#000"/>
<path d="M511.2,547.6 L509.0,547.3 L509.8,545.9 L502.6,547.3 L509.3,550.3 L508.8,548.7 L511.1,549.0Z" fill="#000"/>
<path d="M536.8,548.3 L536.8,547.8 L537.8,548.3 L536.3,543.5 L534.8,548.3 L535.9,547.8 L535.9,548.3Z" fill="#000"/>
<path d="M562.1,548.6 L562.9,547.2 L563.9,548.5 L565.2,541.3 L560.0,546.5 L561.7,546.5 L560.9,548.0Z" fill="#000"/>
<path d="M587.4,548.3 L587.4,541.0 L588.9,541.7 L586.7,534.7 L584.5,541.7 L586.0,541.0 L586.0,548.3Z" fill="#000"/>
<path d="M612.6,548.5 L618.8,532.0 L620.0,533.2 L620.4,525.9 L615.9,531.7 L617.5,531.5 L611.2,548.0Z" fill="#000"/>
<path d="M637.8,548.4 L641.4,515.6 L642.8,516.5 L641.4,509.3 L638.4,516.0 L640.0,515.5 L636.4,548.2Z" fill="#000"/>
<path d="M663.0,548.4 L668.1,514.3 L669.5,515.2 L668.4,508.0 L665.2,514.6 L666.7,514.1 L661.6,548.2Z" fill="#000"/>
<path d="M688.2,548.3 L687.6,530.3 L689.1,530.9 L686.7,524.0 L684.7,531.1 L686.2,530.3 L686.8,548.3Z" fill="#000"/>
<path d="M713.4,548.3 L713.6,523.6 L715.1,524.3 L713.0,517.3 L710.7,524.3 L712.2,523.6 L712.0,548.3Z" fill="#000"/>
<path d="M108.5,570.8 L108.5,570.4 L109.3,570.8 L108.1,566.9 L106.9,570.8 L107.7,570.4 L107.7,570.8Z" fill="#000"/>
<path d="M133.3,570.1 L122.3,570.1 L123.0,568.6 L116.0,570.8 L123.0,573.0 L122.3,571.5 L133.3,571.5Z" fill="#000"/>
<path d="M158.5,570.1 L146.8,570.1 L147.5,568.6 L140.5,570.8 L147.5,573.0 L146.8,571.5 L158.5,571.5Z" fill="#000"/>
<path d="M183.7,570.1 L170.9,569.0 L171.7,567.6 L164.6,569.2 L171.4,572.0 L170.8,570.4 L183.6,571.5Z" fill="#000"/>
<path d="M208.9,570.1 L193.4,570.1 L194.1,568.6 L187.1,570.8 L194.1,573.0 L193.4,571.5 L208.9,571.5Z" fill="#000"/>
<path d="M234.1,570.1 L217.5,570.1 L218.2,568.6 L211.2,570.8 L218.2,573.0 L217.5,571.5 L234.1,571.5Z" fill="#000"/>
<path d="M259.2,570.1 L242.4,570.1 L243.1,568.6 L236.1,570.8 L243.1,573.0 L242.4,571.5 L259.2,571.5Z" fill="#000"/>
<path d="M284.5,570.1 L271.2,569.0 L272.0,567.6 L264.8,569.2 L271.6,571.9 L271.1,570.4 L284.4,571.5Z" fill="#000"/>
<path d="M309.8,570.1 L306.2,568.9 L307.4,567.7 L300.0,567.7 L306.0,571.9 L305.8,570.3 L309.4,571.4Z" fill="#000"/>
<path d="M335.1,570.2 L328.1,566.6 L329.4,565.6 L322.1,564.4 L327.4,569.5 L327.4,567.8 L334.5,571.4Z" fill="#000"/>
<path d="M360.5,570.3 L354.3,564.3 L355.9,563.7 L349.3,560.4 L352.8,566.8 L353.3,565.3 L359.5,571.3Z" fill="#000"/>
<path d="M385.7,570.3 L380.3,564.1 L381.9,563.7 L375.6,559.9 L378.6,566.6 L379.2,565.1 L384.7,571.2Z" fill="#000"/>
<path d="M410.8,570.2 L405.3,565.6 L406.8,564.9 L400.0,562.1 L403.9,568.3 L404.4,566.7 L409.9,571.3Z" fill="#000"/>
<path d="M436.0,570.2 L431.0,566.4 L432.5,565.7 L425.6,563.2 L429.8,569.2 L430.2,567.5 L435.1,571.3Z" fill="#000"/>
<path d="M461.0,570.1 L446.5,564.7 L447.7,563.6 L440.4,563.2 L446.2,567.7 L446.0,566.0 L460.5,571.4Z" fill="#000"/>
<path d="M485.6,571.4 L489.1,573.2 L487.8,574.2 L495.1,575.5 L489.8,570.3 L489.8,572.0 L486.3,570.2Z" fill="#000"/>
<path d="M511.8,570.7 L511.2,559.7 L512.7,560.3 L510.1,553.5 L508.3,560.6 L509.8,559.8 L510.4,570.8Z" fill="#000"/>
<path d="M537.0,570.6 L535.9,567.3 L537.6,567.5 L533.3,561.5 L533.4,568.8 L534.6,567.7 L535.7,571.0Z" fill="#000"/>
<path d="M562.2,570.7 L560.7,559.6 L562.3,560.1 L559.1,553.5 L557.9,560.7 L559.3,559.8 L560.8,570.9Z" fill="#000"/>
<path d="M587.3,571.1 L591.8,562.0 L592.8,563.3 L593.9,556.1 L588.9,561.4 L590.5,561.4 L586.1,570.5Z" fill="#000"/>
<path d="M612.6,570.6 L608.5,556.6 L610.1,556.9 L606.0,550.8 L605.9,558.1 L607.1,557.0 L611.2,571.0Z" fill="#000"/>
<path d="M637.8,570.8 L638.0,537.1 L639.5,537.8 L637.4,530.8 L635.1,537.8 L636.6,537.1 L636.4,570.8Z" fill="#000"/>
<path d="M663.0,570.8 L663.2,550.4 L664.7,551.1 L662.6,544.1 L660.3,551.1 L661.8,550.4 L661.6,570.8Z" fill="#000"/>
<path d="M688.2,570.8 L686.4,530.3 L688.0,531.0 L685.5,524.1 L683.6,531.2 L685.0,530.4 L686.8,570.8Z" fill="#000"/>
<path d="M713.1,570.8 L713.1,570.4 L713.9,570.8 L712.7,566.9 L711.4,570.8 L712.3,570.4 L712.3,570.8Z" fill="#000"/>
<path d="M108.5,593.3 L108.5,592.9 L109.3,593.3 L108.1,589.4 L106.9,593.3 L107.7,592.9 L107.7,593.3Z" fill="#000"/>
<path d="M133.3,592.6 L119.5,593.3 L120.2,591.8 L113.3,594.4 L120.4,596.2 L119.6,594.7 L133.3,594.0Z" fill="#000"/>
<path d="M158.5,592.6 L145.2,592.8 L145.8,591.3 L138.9,593.7 L145.9,595.7 L145.2,594.2 L158.5,594.0Z" fill="#000"/>
<path d="M183.6,592.6 L166.3,593.4 L167.0,591.8 L160.1,594.4 L167.2,596.2 L166.4,594.8 L183.7,594.0Z" fill="#000"/>
<path d="M208.8,592.6 L191.1,593.4 L191.8,591.9 L184.9,594.4 L192.0,596.2 L191.2,594.8 L208.9,594.0Z" fill="#000"/>
<path d="M234.1,592.6 L217.1,590.2 L218.0,588.8 L210.8,590.0 L217.4,593.1 L216.9,591.5 L234.0,594.0Z" fill="#000"/>
<path d="M259.4,592.6 L246.0,589.8 L246.9,588.5 L239.6,589.3 L246.1,592.8 L245.7,591.2 L259.1,594.0Z" fill="#000"/>
<path d="M284.6,592.6 L273.0,590.4 L273.9,589.1 L266.6,590.0 L273.1,593.4 L272.7,591.8 L284.3,594.0Z" fill="#000"/>
<path d="M310.0,592.7 L305.8,590.2 L307.2,589.3 L300.0,587.7 L305.0,593.1 L305.1,591.4 L309.3,593.9Z" fill="#000"/>
<path d="M335.2,592.7 L328.6,587.6 L330.1,586.9 L323.2,584.4 L327.4,590.4 L327.8,588.8 L334.4,593.8Z" fill="#000"/>
<path d="M360.4,592.7 L356.0,589.0 L357.5,588.3 L350.7,585.5 L354.6,591.7 L355.1,590.1 L359.6,593.8Z" fill="#000"/>
<path d="M385.7,592.8 L380.0,585.6 L381.6,585.2 L375.6,581.1 L378.2,587.9 L378.9,586.5 L384.6,593.7Z" fill="#000"/>
<path d="M410.8,592.7 L406.6,589.7 L408.0,588.9 L401.1,586.6 L405.5,592.4 L405.8,590.8 L410.0,593.8Z" fill="#000"/>
<path d="M435.8,592.6 L434.0,592.1 L435.1,590.9 L427.8,591.1 L433.9,595.1 L433.6,593.5 L435.4,593.9Z" fill="#000"/>
<path d="M460.5,592.6 L455.4,594.7 L455.5,593.0 L449.9,597.7 L457.2,597.1 L456.0,596.0 L461.0,593.9Z" fill="#000"/>
<path d="M486.3,593.3 L486.3,592.9 L487.2,593.3 L486.0,589.4 L484.7,593.3 L485.6,592.9 L485.6,593.3Z" fill="#000"/>
<path d="M511.7,592.9 L511.3,592.3 L512.9,591.9 L506.9,587.7 L509.4,594.6 L510.2,593.1 L510.6,593.7Z" fill="#000"/>
<path d="M537.0,593.1 L533.9,581.9 L535.5,582.1 L531.5,576.0 L531.3,583.3 L532.5,582.2 L535.7,593.5Z" fill="#000"/>
<path d="M562.2,593.0 L558.2,581.7 L559.8,581.8 L555.4,576.0 L555.7,583.3 L556.9,582.1 L560.9,593.5Z" fill="#000"/>
<path d="M587.4,593.3 L586.8,571.5 L588.3,572.2 L585.9,565.3 L583.9,572.3 L585.4,571.6 L586.0,593.3Z" fill="#000"/>
<path d="M612.6,593.3 L613.5,579.6 L614.9,580.4 L613.2,573.3 L610.6,580.1 L612.1,579.5 L611.2,593.2Z" fill="#000"/>
<path d="M637.8,593.5 L645.8,568.3 L647.0,569.4 L647.1,562.1 L642.9,568.1 L644.5,567.9 L636.4,593.1Z" fill="#000"/>
<path d="M663.0,593.3 L662.5,551.6 L664.1,552.2 L661.8,545.3 L659.7,552.3 L661.1,551.6 L661.6,593.3Z" fill="#000"/>
<path d="M688.1,593.1 L677.3,560.3 L679.0,560.5 L674.7,554.6 L674.8,561.9 L676.0,560.8 L686.8,593.5Z" fill="#000"/>
<path d="M713.4,593.2 L710.6,575.4 L712.2,575.9 L709.0,569.3 L707.9,576.5 L709.2,575.6 L712.0,593.4Z" fill="#000"/>
<path d="M108.5,615.8 L108.5,615.4 L109.3,615.8 L108.1,611.9 L106.9,615.8 L107.7,615.4 L107.7,615.8Z" fill="#000"/>
<path d="M133.3,615.1 L121.8,614.2 L122.6,612.8 L115.5,614.5 L122.3,617.2 L121.7,615.6 L133.2,616.5Z" fill="#000"/>
<path d="M158.6,615.1 L150.8,614.0 L151.7,612.6 L144.5,613.8 L151.1,616.9 L150.6,615.3 L158.4,616.5Z" fill="#000"/>
<path d="M183.8,615.1 L172.0,612.7 L173.0,611.4 L165.7,612.2 L172.1,615.7 L171.7,614.1 L183.5,616.4Z" fill="#000"/>
<path d="M209.0,615.1 L194.1,611.0 L195.2,609.7 L187.9,610.0 L194.0,613.9 L193.7,612.3 L208.7,616.4Z" fill="#000"/>
<path d="M234.3,615.1 L217.4,610.0 L218.5,608.8 L211.2,608.9 L217.2,613.0 L217.0,611.3 L233.8,616.4Z" fill="#000"/>
<path d="M259.5,615.1 L242.8,607.0 L244.1,605.9 L236.8,604.9 L242.2,609.9 L242.2,608.2 L258.9,616.4Z" fill="#000"/>
<path d="M284.7,615.1 L271.5,608.4 L272.8,607.4 L265.5,606.2 L270.8,611.3 L270.8,609.6 L284.1,616.4Z" fill="#000"/>
<path d="M310.0,615.2 L305.5,611.9 L307.0,611.1 L300.0,608.8 L304.4,614.7 L304.7,613.0 L309.2,616.3Z" fill="#000"/>
<path d="M335.2,615.2 L327.9,611.0 L329.3,610.0 L322.1,608.5 L327.1,613.9 L327.2,612.2 L334.5,616.4Z" fill="#000"/>
<path d="M360.3,615.1 L356.8,613.8 L358.0,612.6 L350.7,612.2 L356.4,616.7 L356.3,615.1 L359.7,616.4Z" fill="#000"/>
<path d="M385.6,615.8 L385.6,615.4 L386.4,615.8 L385.2,611.9 L384.0,615.8 L384.8,615.4 L384.8,615.8Z" fill="#000"/>
<path d="M410.7,615.3 L410.3,614.9 L411.5,614.2 L405.5,612.2 L409.3,617.3 L409.5,615.9 L410.0,616.2Z" fill="#000"/>
<path d="M436.0,615.8 L436.0,615.4 L436.8,615.8 L435.6,611.9 L434.3,615.8 L435.2,615.4 L435.2,615.8Z" fill="#000"/>
<path d="M461.1,615.8 L461.1,615.4 L462.0,615.8 L460.8,611.9 L459.5,615.8 L460.4,615.4 L460.4,615.8Z" fill="#000"/>
<path d="M486.3,615.8 L486.3,615.4 L487.2,615.8 L486.0,611.9 L484.7,615.8 L485.6,615.4 L485.6,615.8Z" fill="#000"/>
<path d="M511.5,615.8 L511.5,615.4 L512.4,615.8 L511.1,611.9 L509.9,615.8 L510.8,615.4 L510.8,615.8Z" fill="#000"/>
<path d="M537.0,615.6 L535.0,603.5 L536.6,603.9 L533.3,597.4 L532.3,604.6 L533.7,603.7 L535.6,615.9Z" fill="#000"/>
<path d="M562.1,615.4 L554.1,600.0 L555.7,599.9 L550.5,594.8 L551.8,602.0 L552.8,600.7 L560.9,616.1Z" fill="#000"/>
<path d="M587.3,615.4 L582.5,607.2 L584.2,607.1 L578.7,602.2 L580.4,609.3 L581.3,607.9 L586.1,616.1Z" fill="#000"/>
<path d="M612.6,615.7 L612.3,605.0 L613.8,605.7 L611.4,598.8 L609.4,605.8 L610.9,605.1 L611.2,615.8Z" fill="#000"/>
<path d="M637.8,615.8 L639.3,601.1 L640.7,601.9 L639.2,594.8 L636.3,601.5 L637.9,601.0 L636.4,615.7Z" fill="#000"/>
<path d="M663.0,615.7 L662.7,603.6 L664.2,604.3 L661.8,597.4 L659.8,604.4 L661.3,603.7 L661.6,615.8Z" fill="#000"/>
<path d="M688.1,615.6 L685.9,608.0 L687.6,608.3 L683.5,602.2 L683.3,609.5 L684.6,608.4 L686.8,616.0Z" fill="#000"/>
<path d="M713.4,615.8 L713.9,599.7 L715.4,600.4 L713.5,593.4 L711.0,600.3 L712.5,599.6 L712.0,615.7Z" fill="#000"/>
<path d="M346,384 L512,274" stroke="#000" stroke-width="3.4" fill="none"/>
<circle cx="428.5" cy="330.4" r="6.9" fill="#f00" stroke="#000" stroke-width="2.8"/>
</g>
<rect x="108.5" y="56.5" width="627.3" height="559.7" fill="none" stroke="#000" stroke-width="1.4"/>
<rect x="750.6" y="520.59" width="20.299999999999955" height="19.71" fill="#545ca8"/>
<rect x="750.6" y="501.17" width="20.299999999999955" height="19.71" fill="#3f77b5"/>
<rect x="750.6" y="481.76" width="20.299999999999955" height="19.71" fill="#3b92b9"/>
<rect x="750.6" y="462.34" width="20.299999999999955" height="19.71" fill="#54aead"/>
<rect x="750.6" y="442.93" width="20.299999999999955" height="19.71" fill="#6ec5a5"/>
<rect x="750.6" y="423.51" width="20.299999999999955" height="19.71" fill="#91d3a4"/>
<rect x="750.6" y="404.10" width="20.299999999999955" height="19.71" fill="#b1dfa3"/>
<rect x="750.6" y="384.69" width="20.299999999999955" height="19.71" fill="#cdeb9d"/>
<rect x="750.6" y="365.27" width="20.299999999999955" height="19.71" fill="#e7f59a"/>
<rect x="750.6" y="345.86" width="20.299999999999955" height="19.71" fill="#f3faac"/>
<rect x="750.6" y="326.44" width="20.299999999999955" height="19.71" fill="#fffebe"/>
<rect x="750.6" y="307.03" width="20.299999999999955" height="19.71" fill="#fff0a6"/>
<rect x="750.6" y="287.61" width="20.299999999999955" height="19.71" fill="#fee18d"/>
<rect x="750.6" y="268.20" width="20.299999999999955" height="19.71" fill="#feca79"/>
<rect x="750.6" y="248.79" width="20.299999999999955" height="19.71" fill="#fdb365"/>
<rect x="750.6" y="229.37" width="20.299999999999955" height="19.71" fill="#fa9656"/>
<rect x="750.6" y="209.96" width="20.299999999999955" height="19.71" fill="#f57547"/>
<rect x="750.6" y="190.54" width="20.299999999999955" height="19.71" fill="#e95c47"/>
<rect x="750.6" y="171.13" width="20.299999999999955" height="19.71" fill="#da464d"/>
<rect x="750.6" y="151.71" width="20.299999999999955" height="19.71" fill="#c52c4b"/>
<rect x="750.6" y="132.30" width="20.299999999999955" height="19.71" fill="#ab0f45"/>
<path d="M750.6,132.3 L760.75,111.9 L770.9,132.3 Z" fill="#9e0142"/>
<path d="M750.6,540.0 L760.75,560.4 L770.9,540.0 Z" fill="#5e4fa2"/>
<path d="M750.6,132.3 L760.75,111.9 L770.9,132.3 L770.9,540.0 L760.75,560.4 L750.6,540.0 Z" fill="none" stroke="#000" stroke-width="1.3"/>
<path d="M765.9,540.00 L770.9,540.00" stroke="#000" stroke-width="1"/>
<text x="775" y="548.0" class="t30">2.5</text>
<path d="M765.9,481.76 L770.9,481.76" stroke="#000" stroke-width="1"/>
<text x="775" y="489.8" class="t30">10.0</text>
<path d="M765.9,423.51 L770.9,423.51" stroke="#000" stroke-width="1"/>
<text x="775" y="431.5" class="t30">17.5</text>
<path d="M765.9,365.27 L770.9,365.27" stroke="#000" stroke-width="1"/>
<text x="775" y="373.3" class="t30">25.0</text>
<path d="M765.9,307.03 L770.9,307.03" stroke="#000" stroke-width="1"/>
<text x="775" y="315.0" class="t30">32.5</text>
<path d="M765.9,248.79 L770.9,248.79" stroke="#000" stroke-width="1"/>
<text x="775" y="256.8" class="t30">40.0</text>
<path d="M765.9,190.54 L770.9,190.54" stroke="#000" stroke-width="1"/>
<text x="775" y="198.5" class="t30">47.5</text>
<path d="M765.9,132.30 L770.9,132.30" stroke="#000" stroke-width="1"/>
<text x="775" y="140.3" class="t30">55.0</text>
<text x="422.5" y="49" class="t25" text-anchor="middle">Init: 2017-04-30 00:00; Valid: 2017-06-10 12:00</text>
<text x="153.4" y="644" class="t27" text-anchor="middle">-9.0</text>
<text x="372.4" y="644" class="t27" text-anchor="middle">-8.0</text>
<text x="591.0" y="644" class="t27" text-anchor="middle">-7.0</text>
<text x="104" y="262.9" class="t27" text-anchor="end">40.0</text>
<text x="104" y="512.8" class="t27" text-anchor="end">39.0</text>
<text x="422" y="679.6" class="t30" text-anchor="middle">Longitude (deg)</text>
<text transform="translate(31.8,334.7) rotate(-90)" class="t30" text-anchor="middle">Latitude (deg)</text>
<text transform="translate(875,668.6) rotate(-90)" class="t30">Horizontal wind speed at 850.0 hPa (m s<tspan dy="-13.5" dx="0.5" font-size="19.5">&#8722;1</tspan><tspan dy="13.5" dx="3.2">)</tspan></text>
</svg>
</body></html>
